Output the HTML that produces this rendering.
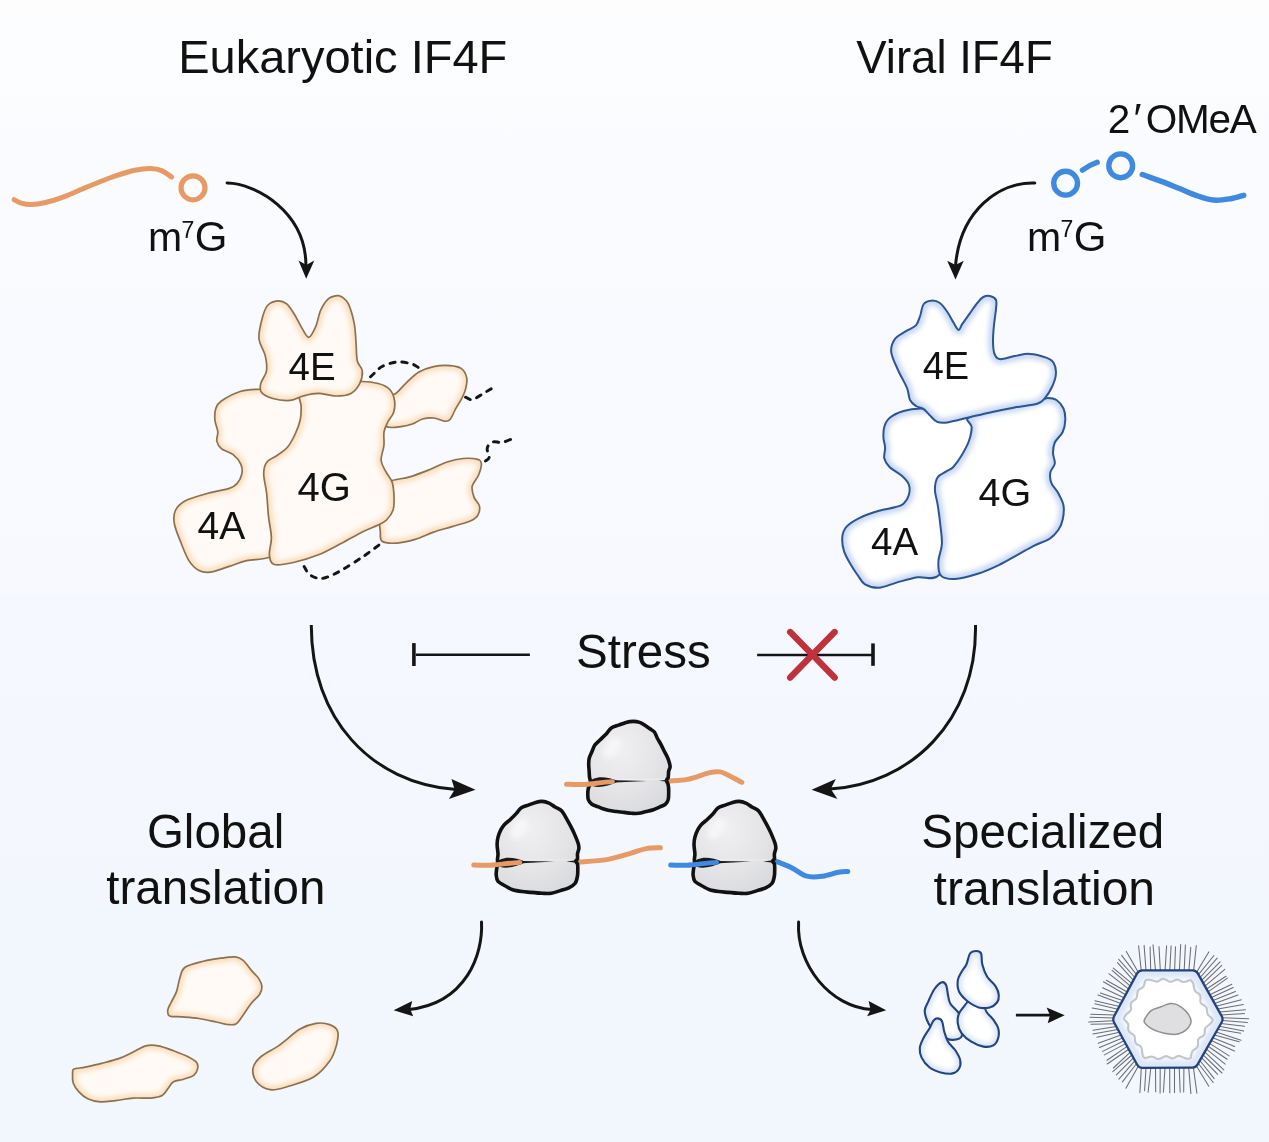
<!DOCTYPE html>
<html><head><meta charset="utf-8"><title>IF4F diagram</title>
<style>html,body{margin:0;padding:0;background:#f8fafe;}svg{display:block;} svg text{opacity:0.999;} .lbl{font-family:"Liberation Sans", sans-serif;}</style>
</head><body>
<svg width="1269" height="1142" viewBox="0 0 1269 1142">
<defs>
<linearGradient id="bg" x1="0" y1="0" x2="0" y2="1142" gradientUnits="userSpaceOnUse">
<stop offset="0" stop-color="#fdfdfe"/>
<stop offset="0.083" stop-color="#fcfdfe"/>
<stop offset="0.084" stop-color="#fbfcfe"/>
<stop offset="0.251" stop-color="#fafbfe"/>
<stop offset="0.252" stop-color="#f9fafe"/>
<stop offset="0.52" stop-color="#f7f9fe"/>
<stop offset="0.521" stop-color="#f5f8fe"/>
<stop offset="1" stop-color="#f2f6fd"/>
</linearGradient>
<radialGradient id="ribograd" cx="0.4" cy="0.3" r="0.85">
<stop offset="0" stop-color="#f0f0f2"/>
<stop offset="0.55" stop-color="#e4e4e7"/>
<stop offset="1" stop-color="#d6d7da"/>
</radialGradient>
<filter id="soft" x="-20%" y="-20%" width="140%" height="140%"><feGaussianBlur stdDeviation="2.8"/></filter>
</defs>
<rect width="1269" height="1142" fill="url(#bg)"/>

<path d="M14.2,199.7 C15.4,200.3 18.5,202.4 21.3,203.2 C24.1,204.0 27.2,204.7 31.2,204.6 C35.2,204.5 40.0,203.8 45.4,202.5 C50.8,201.2 57.6,199.1 63.8,196.8 C70.0,194.6 76.4,191.5 82.3,189.0 C88.2,186.5 93.6,184.2 99.3,182.0 C105.0,179.8 110.4,177.5 116.3,175.6 C122.2,173.7 129.1,171.5 134.8,170.3 C140.5,169.1 145.9,168.4 150.4,168.5 C154.9,168.6 158.2,169.2 161.7,170.6 C165.2,172.0 169.9,175.9 171.6,177.0" fill="none" stroke="#e69a66" stroke-width="5" stroke-linecap="round"/>
<circle cx="193" cy="187.8" r="12" fill="none" stroke="#e69a66" stroke-width="5.2"/>
<circle cx="1065.6" cy="183.2" r="11.9" fill="none" stroke="#3f8ae0" stroke-width="5.4"/>
<circle cx="1120.7" cy="165.8" r="11.9" fill="none" stroke="#3f8ae0" stroke-width="5.4"/>
<path d="M1082.5,170.1 Q1089.5,165 1097.2,162.3" fill="none" stroke="#3f8ae0" stroke-width="5.4" stroke-linecap="round"/>
<path d="M1142.3,174.5 C1145.5,175.7 1155.3,179.1 1161.4,181.4 C1167.5,183.7 1172.9,186.0 1178.7,188.3 C1184.5,190.6 1190.2,193.3 1196.0,195.3 C1201.8,197.3 1207.6,199.5 1213.4,200.1 C1219.2,200.7 1225.7,199.5 1230.7,198.7 C1235.8,197.9 1241.5,195.9 1243.7,195.3" fill="none" stroke="#3f8ae0" stroke-width="5.5" stroke-linecap="round"/>

<path d="M227.1,183.1 C255.7,183.3 306.2,211.9 305.9,266" fill="none" stroke="#151515" stroke-width="3" stroke-linecap="round"/><path d="M306.2,278.7 L298.5,260.6 L306.3,265 L314.3,260.6Z" fill="#151515"/><path d="M1034.8,183 C999.2,181.7 960,210.5 955.5,266" fill="none" stroke="#151515" stroke-width="3" stroke-linecap="round"/><path d="M955.5,279.5 L947.2,260.8 L955.5,265 L963.7,260.8Z" fill="#151515"/><path d="M311.3,625 C311.1,718.2 370.7,783.3 456,789.5" fill="none" stroke="#151515" stroke-width="3"/><path d="M475.5,789.7 L451.4,778.9 L454.7,789.4 L448.9,798.9Z" fill="#151515"/><path d="M975.5,625 C977.3,721.6 909.3,784.7 830,789" fill="none" stroke="#151515" stroke-width="3"/><path d="M811.6,789.7 L835.8,778.9 L830.8,788.9 L837.4,798.9Z" fill="#151515"/><path d="M481.5,922.1 C483.2,953.8 466.4,1003.4 409,1009.5" fill="none" stroke="#151515" stroke-width="3" stroke-linecap="round"/><path d="M393.6,1010.2 L412.2,1001.1 L410.2,1009.2 L413.2,1016.2Z" fill="#151515"/><path d="M798.6,922.1 C796.1,964.6 830.1,1007.1 872,1009.6" fill="none" stroke="#151515" stroke-width="3" stroke-linecap="round"/><path d="M886.2,1010.2 L868.6,1001.1 L870.6,1009.7 L867.1,1016.2Z" fill="#151515"/><path d="M1015.9,1015.2 L1050,1015.2" stroke="#151515" stroke-width="2.8"/><path d="M1064.7,1015.2 L1046.6,1007.4 L1050,1015.2 L1047.7,1023.3Z" fill="#151515"/>
<path d="M370.5,376.8 C371.1,376.2 372.1,375.2 374.0,373.5 C375.9,371.8 378.3,368.4 382.1,366.5 C385.9,364.6 391.9,362.4 396.8,362.0 C401.7,361.6 407.8,362.8 411.5,363.8 C415.2,364.8 417.8,367.3 419.0,368.0" fill="none" stroke="#151515" stroke-width="2.9" stroke-dasharray="5.2 6.8" stroke-linecap="round"/><path d="M465.5,397.2 C466.5,397.6 469.7,399.8 471.7,399.8 C473.7,399.8 475.6,398.1 477.5,397.1 C479.4,396.1 481.5,394.8 483.3,393.7 C485.1,392.6 486.5,391.4 488.3,390.4 C490.1,389.3 493.3,387.9 494.3,387.4" fill="none" stroke="#151515" stroke-width="2.9" stroke-dasharray="5.2 6.8" stroke-linecap="round"/><path d="M485.5,461.0 C486.1,460.5 488.2,459.3 488.8,458.2 C489.4,457.1 489.5,455.9 489.2,454.5 C488.9,453.1 487.4,451.4 487.2,450.0 C487.0,448.6 487.4,447.1 488.0,446.0 C488.6,444.9 489.9,443.9 491.0,443.2 C492.1,442.5 493.0,441.8 494.5,441.7 C496.0,441.6 498.2,442.4 500.0,442.4 C501.8,442.4 503.0,442.2 505.0,441.6 C507.0,441.0 510.7,439.4 511.8,439.0" fill="none" stroke="#151515" stroke-width="2.9" stroke-dasharray="5.2 6.8" stroke-linecap="round"/><path d="M304.1,566.4 C304.9,567.7 306.9,572.1 309.0,574.0 C311.1,575.9 314.2,577.4 317.0,578.0 C319.8,578.6 321.9,578.8 326.0,577.5 C330.1,576.2 335.5,573.7 341.6,570.2 C347.7,566.8 356.4,561.1 362.8,556.8 C369.2,552.5 377.2,546.3 380.1,544.2" fill="none" stroke="#151515" stroke-width="2.9" stroke-dasharray="5.2 6.8" stroke-linecap="round"/><clipPath id="c1"><path d="M394.9,394.1 C398.4,392.0 402.0,386.8 406.0,383.1 C410.0,379.4 414.3,374.9 418.9,372.1 C423.5,369.4 428.4,367.7 433.6,366.6 C438.8,365.5 445.5,365.3 450.1,365.6 C454.7,365.9 458.3,366.4 461.1,368.4 C463.9,370.4 465.9,374.2 466.7,377.6 C467.5,381.0 466.5,385.2 465.7,388.6 C464.9,392.0 463.8,394.4 462.1,397.8 C460.4,401.2 457.6,405.3 455.6,408.9 C453.6,412.5 451.9,417.4 450.1,419.5 C448.3,421.6 447.4,421.4 444.6,421.2 C441.9,420.9 437.3,418.4 433.6,418.0 C429.9,417.6 425.9,418.1 422.5,419.0 C419.1,419.9 416.7,422.4 413.3,423.6 C409.9,424.8 406.9,425.9 402.3,426.3 C397.7,426.8 389.8,429.0 385.7,426.3 C381.6,423.6 378.1,415.1 378.0,410.0 C377.9,404.9 382.2,398.6 385.0,396.0 C387.8,393.4 391.4,396.2 394.9,394.1Z"/></clipPath><path d="M394.9,394.1 C398.4,392.0 402.0,386.8 406.0,383.1 C410.0,379.4 414.3,374.9 418.9,372.1 C423.5,369.4 428.4,367.7 433.6,366.6 C438.8,365.5 445.5,365.3 450.1,365.6 C454.7,365.9 458.3,366.4 461.1,368.4 C463.9,370.4 465.9,374.2 466.7,377.6 C467.5,381.0 466.5,385.2 465.7,388.6 C464.9,392.0 463.8,394.4 462.1,397.8 C460.4,401.2 457.6,405.3 455.6,408.9 C453.6,412.5 451.9,417.4 450.1,419.5 C448.3,421.6 447.4,421.4 444.6,421.2 C441.9,420.9 437.3,418.4 433.6,418.0 C429.9,417.6 425.9,418.1 422.5,419.0 C419.1,419.9 416.7,422.4 413.3,423.6 C409.9,424.8 406.9,425.9 402.3,426.3 C397.7,426.8 389.8,429.0 385.7,426.3 C381.6,423.6 378.1,415.1 378.0,410.0 C377.9,404.9 382.2,398.6 385.0,396.0 C387.8,393.4 391.4,396.2 394.9,394.1Z" fill="#fffaf5"/><path d="M394.9,394.1 C398.4,392.0 402.0,386.8 406.0,383.1 C410.0,379.4 414.3,374.9 418.9,372.1 C423.5,369.4 428.4,367.7 433.6,366.6 C438.8,365.5 445.5,365.3 450.1,365.6 C454.7,365.9 458.3,366.4 461.1,368.4 C463.9,370.4 465.9,374.2 466.7,377.6 C467.5,381.0 466.5,385.2 465.7,388.6 C464.9,392.0 463.8,394.4 462.1,397.8 C460.4,401.2 457.6,405.3 455.6,408.9 C453.6,412.5 451.9,417.4 450.1,419.5 C448.3,421.6 447.4,421.4 444.6,421.2 C441.9,420.9 437.3,418.4 433.6,418.0 C429.9,417.6 425.9,418.1 422.5,419.0 C419.1,419.9 416.7,422.4 413.3,423.6 C409.9,424.8 406.9,425.9 402.3,426.3 C397.7,426.8 389.8,429.0 385.7,426.3 C381.6,423.6 378.1,415.1 378.0,410.0 C377.9,404.9 382.2,398.6 385.0,396.0 C387.8,393.4 391.4,396.2 394.9,394.1Z" fill="none" stroke="#f9dfc0" stroke-width="9" clip-path="url(#c1)" filter="url(#soft)"/><path d="M394.9,394.1 C398.4,392.0 402.0,386.8 406.0,383.1 C410.0,379.4 414.3,374.9 418.9,372.1 C423.5,369.4 428.4,367.7 433.6,366.6 C438.8,365.5 445.5,365.3 450.1,365.6 C454.7,365.9 458.3,366.4 461.1,368.4 C463.9,370.4 465.9,374.2 466.7,377.6 C467.5,381.0 466.5,385.2 465.7,388.6 C464.9,392.0 463.8,394.4 462.1,397.8 C460.4,401.2 457.6,405.3 455.6,408.9 C453.6,412.5 451.9,417.4 450.1,419.5 C448.3,421.6 447.4,421.4 444.6,421.2 C441.9,420.9 437.3,418.4 433.6,418.0 C429.9,417.6 425.9,418.1 422.5,419.0 C419.1,419.9 416.7,422.4 413.3,423.6 C409.9,424.8 406.9,425.9 402.3,426.3 C397.7,426.8 389.8,429.0 385.7,426.3 C381.6,423.6 378.1,415.1 378.0,410.0 C377.9,404.9 382.2,398.6 385.0,396.0 C387.8,393.4 391.4,396.2 394.9,394.1Z" fill="none" stroke="#8b7150" stroke-width="1.7" stroke-linejoin="round"/><clipPath id="c2"><path d="M392.2,480.6 C396.5,478.8 403.4,478.8 409.7,476.9 C416.0,475.0 423.8,471.9 429.9,469.5 C436.0,467.1 440.9,464.0 446.4,462.2 C451.9,460.4 457.8,459.0 463.0,458.5 C468.2,458.0 474.6,458.5 477.7,459.4 C480.8,460.3 481.2,461.4 481.4,464.0 C481.5,466.6 480.1,471.3 478.6,475.0 C477.1,478.7 473.0,482.4 472.2,486.1 C471.4,489.8 472.8,493.7 474.0,497.1 C475.2,500.5 478.9,503.2 479.5,506.3 C480.1,509.4 479.2,513.0 477.7,515.5 C476.2,518.0 474.6,519.1 470.3,521.0 C466.0,522.9 458.1,524.8 452.0,526.6 C445.9,528.5 439.7,530.0 433.6,532.1 C427.5,534.2 421.3,537.6 415.2,539.4 C409.1,541.2 402.3,542.8 396.8,543.1 C391.3,543.4 384.9,543.4 382.1,541.3 C379.3,539.1 380.9,536.2 380.2,530.2 C379.5,524.2 377.4,512.0 378.0,505.0 C378.6,498.0 381.6,492.1 384.0,488.0 C386.4,483.9 387.9,482.5 392.2,480.6Z"/></clipPath><path d="M392.2,480.6 C396.5,478.8 403.4,478.8 409.7,476.9 C416.0,475.0 423.8,471.9 429.9,469.5 C436.0,467.1 440.9,464.0 446.4,462.2 C451.9,460.4 457.8,459.0 463.0,458.5 C468.2,458.0 474.6,458.5 477.7,459.4 C480.8,460.3 481.2,461.4 481.4,464.0 C481.5,466.6 480.1,471.3 478.6,475.0 C477.1,478.7 473.0,482.4 472.2,486.1 C471.4,489.8 472.8,493.7 474.0,497.1 C475.2,500.5 478.9,503.2 479.5,506.3 C480.1,509.4 479.2,513.0 477.7,515.5 C476.2,518.0 474.6,519.1 470.3,521.0 C466.0,522.9 458.1,524.8 452.0,526.6 C445.9,528.5 439.7,530.0 433.6,532.1 C427.5,534.2 421.3,537.6 415.2,539.4 C409.1,541.2 402.3,542.8 396.8,543.1 C391.3,543.4 384.9,543.4 382.1,541.3 C379.3,539.1 380.9,536.2 380.2,530.2 C379.5,524.2 377.4,512.0 378.0,505.0 C378.6,498.0 381.6,492.1 384.0,488.0 C386.4,483.9 387.9,482.5 392.2,480.6Z" fill="#fffaf5"/><path d="M392.2,480.6 C396.5,478.8 403.4,478.8 409.7,476.9 C416.0,475.0 423.8,471.9 429.9,469.5 C436.0,467.1 440.9,464.0 446.4,462.2 C451.9,460.4 457.8,459.0 463.0,458.5 C468.2,458.0 474.6,458.5 477.7,459.4 C480.8,460.3 481.2,461.4 481.4,464.0 C481.5,466.6 480.1,471.3 478.6,475.0 C477.1,478.7 473.0,482.4 472.2,486.1 C471.4,489.8 472.8,493.7 474.0,497.1 C475.2,500.5 478.9,503.2 479.5,506.3 C480.1,509.4 479.2,513.0 477.7,515.5 C476.2,518.0 474.6,519.1 470.3,521.0 C466.0,522.9 458.1,524.8 452.0,526.6 C445.9,528.5 439.7,530.0 433.6,532.1 C427.5,534.2 421.3,537.6 415.2,539.4 C409.1,541.2 402.3,542.8 396.8,543.1 C391.3,543.4 384.9,543.4 382.1,541.3 C379.3,539.1 380.9,536.2 380.2,530.2 C379.5,524.2 377.4,512.0 378.0,505.0 C378.6,498.0 381.6,492.1 384.0,488.0 C386.4,483.9 387.9,482.5 392.2,480.6Z" fill="none" stroke="#f9dfc0" stroke-width="9" clip-path="url(#c2)" filter="url(#soft)"/><path d="M392.2,480.6 C396.5,478.8 403.4,478.8 409.7,476.9 C416.0,475.0 423.8,471.9 429.9,469.5 C436.0,467.1 440.9,464.0 446.4,462.2 C451.9,460.4 457.8,459.0 463.0,458.5 C468.2,458.0 474.6,458.5 477.7,459.4 C480.8,460.3 481.2,461.4 481.4,464.0 C481.5,466.6 480.1,471.3 478.6,475.0 C477.1,478.7 473.0,482.4 472.2,486.1 C471.4,489.8 472.8,493.7 474.0,497.1 C475.2,500.5 478.9,503.2 479.5,506.3 C480.1,509.4 479.2,513.0 477.7,515.5 C476.2,518.0 474.6,519.1 470.3,521.0 C466.0,522.9 458.1,524.8 452.0,526.6 C445.9,528.5 439.7,530.0 433.6,532.1 C427.5,534.2 421.3,537.6 415.2,539.4 C409.1,541.2 402.3,542.8 396.8,543.1 C391.3,543.4 384.9,543.4 382.1,541.3 C379.3,539.1 380.9,536.2 380.2,530.2 C379.5,524.2 377.4,512.0 378.0,505.0 C378.6,498.0 381.6,492.1 384.0,488.0 C386.4,483.9 387.9,482.5 392.2,480.6Z" fill="none" stroke="#8b7150" stroke-width="1.7" stroke-linejoin="round"/><clipPath id="c3"><path d="M262.0,389.0 C255.5,389.5 247.6,389.2 240.9,391.2 C234.2,393.2 225.8,397.9 221.6,400.8 C217.4,403.7 216.9,405.3 215.8,408.5 C214.7,411.7 214.6,416.1 214.9,420.0 C215.2,423.9 217.5,428.1 217.8,431.6 C218.1,435.1 216.2,438.3 216.8,441.2 C217.4,444.1 218.9,446.6 221.6,448.9 C224.3,451.1 230.0,452.1 233.2,454.7 C236.4,457.3 239.5,461.1 240.9,464.3 C242.3,467.5 242.5,470.8 241.8,474.0 C241.2,477.2 239.1,481.2 237.0,483.6 C234.9,486.0 234.1,486.8 229.3,488.4 C224.5,490.0 215.5,491.1 208.1,493.2 C200.7,495.3 190.4,498.0 185.0,500.9 C179.6,503.8 177.2,506.6 175.4,510.5 C173.6,514.4 173.4,518.5 174.4,524.0 C175.4,529.5 178.8,537.2 181.2,543.3 C183.6,549.4 186.0,556.1 188.9,560.6 C191.8,565.1 195.0,568.3 198.5,570.2 C202.0,572.1 204.9,572.8 210.0,572.2 C215.1,571.6 223.2,568.3 229.3,566.4 C235.4,564.5 240.2,562.0 246.6,560.6 C253.0,559.2 261.4,559.8 267.8,557.7 C274.2,555.6 281.0,557.6 285.0,548.0 C289.0,538.4 289.5,515.5 292.0,500.0 C294.5,484.5 296.7,468.3 300.0,455.0 C303.3,441.7 311.2,430.5 312.0,420.0 C312.8,409.5 310.3,397.3 305.0,392.0 C299.7,386.7 287.2,388.5 280.0,388.0 C272.8,387.5 268.5,388.5 262.0,389.0Z"/></clipPath><path d="M262.0,389.0 C255.5,389.5 247.6,389.2 240.9,391.2 C234.2,393.2 225.8,397.9 221.6,400.8 C217.4,403.7 216.9,405.3 215.8,408.5 C214.7,411.7 214.6,416.1 214.9,420.0 C215.2,423.9 217.5,428.1 217.8,431.6 C218.1,435.1 216.2,438.3 216.8,441.2 C217.4,444.1 218.9,446.6 221.6,448.9 C224.3,451.1 230.0,452.1 233.2,454.7 C236.4,457.3 239.5,461.1 240.9,464.3 C242.3,467.5 242.5,470.8 241.8,474.0 C241.2,477.2 239.1,481.2 237.0,483.6 C234.9,486.0 234.1,486.8 229.3,488.4 C224.5,490.0 215.5,491.1 208.1,493.2 C200.7,495.3 190.4,498.0 185.0,500.9 C179.6,503.8 177.2,506.6 175.4,510.5 C173.6,514.4 173.4,518.5 174.4,524.0 C175.4,529.5 178.8,537.2 181.2,543.3 C183.6,549.4 186.0,556.1 188.9,560.6 C191.8,565.1 195.0,568.3 198.5,570.2 C202.0,572.1 204.9,572.8 210.0,572.2 C215.1,571.6 223.2,568.3 229.3,566.4 C235.4,564.5 240.2,562.0 246.6,560.6 C253.0,559.2 261.4,559.8 267.8,557.7 C274.2,555.6 281.0,557.6 285.0,548.0 C289.0,538.4 289.5,515.5 292.0,500.0 C294.5,484.5 296.7,468.3 300.0,455.0 C303.3,441.7 311.2,430.5 312.0,420.0 C312.8,409.5 310.3,397.3 305.0,392.0 C299.7,386.7 287.2,388.5 280.0,388.0 C272.8,387.5 268.5,388.5 262.0,389.0Z" fill="#fffaf5"/><path d="M262.0,389.0 C255.5,389.5 247.6,389.2 240.9,391.2 C234.2,393.2 225.8,397.9 221.6,400.8 C217.4,403.7 216.9,405.3 215.8,408.5 C214.7,411.7 214.6,416.1 214.9,420.0 C215.2,423.9 217.5,428.1 217.8,431.6 C218.1,435.1 216.2,438.3 216.8,441.2 C217.4,444.1 218.9,446.6 221.6,448.9 C224.3,451.1 230.0,452.1 233.2,454.7 C236.4,457.3 239.5,461.1 240.9,464.3 C242.3,467.5 242.5,470.8 241.8,474.0 C241.2,477.2 239.1,481.2 237.0,483.6 C234.9,486.0 234.1,486.8 229.3,488.4 C224.5,490.0 215.5,491.1 208.1,493.2 C200.7,495.3 190.4,498.0 185.0,500.9 C179.6,503.8 177.2,506.6 175.4,510.5 C173.6,514.4 173.4,518.5 174.4,524.0 C175.4,529.5 178.8,537.2 181.2,543.3 C183.6,549.4 186.0,556.1 188.9,560.6 C191.8,565.1 195.0,568.3 198.5,570.2 C202.0,572.1 204.9,572.8 210.0,572.2 C215.1,571.6 223.2,568.3 229.3,566.4 C235.4,564.5 240.2,562.0 246.6,560.6 C253.0,559.2 261.4,559.8 267.8,557.7 C274.2,555.6 281.0,557.6 285.0,548.0 C289.0,538.4 289.5,515.5 292.0,500.0 C294.5,484.5 296.7,468.3 300.0,455.0 C303.3,441.7 311.2,430.5 312.0,420.0 C312.8,409.5 310.3,397.3 305.0,392.0 C299.7,386.7 287.2,388.5 280.0,388.0 C272.8,387.5 268.5,388.5 262.0,389.0Z" fill="none" stroke="#f9dfc0" stroke-width="9" clip-path="url(#c3)" filter="url(#soft)"/><path d="M262.0,389.0 C255.5,389.5 247.6,389.2 240.9,391.2 C234.2,393.2 225.8,397.9 221.6,400.8 C217.4,403.7 216.9,405.3 215.8,408.5 C214.7,411.7 214.6,416.1 214.9,420.0 C215.2,423.9 217.5,428.1 217.8,431.6 C218.1,435.1 216.2,438.3 216.8,441.2 C217.4,444.1 218.9,446.6 221.6,448.9 C224.3,451.1 230.0,452.1 233.2,454.7 C236.4,457.3 239.5,461.1 240.9,464.3 C242.3,467.5 242.5,470.8 241.8,474.0 C241.2,477.2 239.1,481.2 237.0,483.6 C234.9,486.0 234.1,486.8 229.3,488.4 C224.5,490.0 215.5,491.1 208.1,493.2 C200.7,495.3 190.4,498.0 185.0,500.9 C179.6,503.8 177.2,506.6 175.4,510.5 C173.6,514.4 173.4,518.5 174.4,524.0 C175.4,529.5 178.8,537.2 181.2,543.3 C183.6,549.4 186.0,556.1 188.9,560.6 C191.8,565.1 195.0,568.3 198.5,570.2 C202.0,572.1 204.9,572.8 210.0,572.2 C215.1,571.6 223.2,568.3 229.3,566.4 C235.4,564.5 240.2,562.0 246.6,560.6 C253.0,559.2 261.4,559.8 267.8,557.7 C274.2,555.6 281.0,557.6 285.0,548.0 C289.0,538.4 289.5,515.5 292.0,500.0 C294.5,484.5 296.7,468.3 300.0,455.0 C303.3,441.7 311.2,430.5 312.0,420.0 C312.8,409.5 310.3,397.3 305.0,392.0 C299.7,386.7 287.2,388.5 280.0,388.0 C272.8,387.5 268.5,388.5 262.0,389.0Z" fill="none" stroke="#8b7150" stroke-width="1.7" stroke-linejoin="round"/><clipPath id="c4"><path d="M301.0,392.0 C305.8,388.6 320.3,387.7 330.0,386.0 C339.7,384.3 351.0,382.0 359.0,381.6 C367.0,381.2 373.1,382.2 378.2,383.5 C383.3,384.8 387.1,386.6 389.8,389.5 C392.5,392.4 394.0,397.0 394.6,400.8 C395.2,404.6 394.7,408.9 393.6,412.4 C392.5,415.9 389.4,418.7 387.8,422.0 C386.2,425.3 384.6,428.1 384.0,432.0 C383.4,435.9 384.4,440.9 383.9,445.6 C383.4,450.3 380.8,456.0 381.1,460.3 C381.4,464.6 383.9,467.7 385.7,471.4 C387.5,475.1 390.8,478.1 392.2,482.4 C393.6,486.7 393.9,492.5 394.0,497.1 C394.1,501.7 394.4,506.2 393.1,510.0 C391.9,513.8 389.0,517.5 386.5,520.0 C384.0,522.5 382.1,523.0 378.2,525.0 C374.2,527.0 368.9,528.7 362.8,531.7 C356.7,534.8 349.0,539.4 341.6,543.3 C334.2,547.1 326.5,551.6 318.5,554.8 C310.5,558.0 300.9,560.9 293.5,562.5 C286.1,564.1 278.3,565.8 274.3,564.5 C270.3,563.2 269.9,559.3 269.4,554.8 C268.9,550.3 271.5,543.9 271.4,537.5 C271.2,531.1 269.3,523.7 268.5,516.3 C267.7,508.9 267.4,500.2 266.6,493.2 C265.8,486.1 263.7,479.1 263.7,474.0 C263.7,468.9 264.2,465.6 266.6,462.4 C269.0,459.2 274.6,457.3 278.1,454.7 C281.6,452.1 284.8,450.5 287.7,447.0 C290.6,443.5 293.3,438.0 295.4,433.5 C297.5,429.0 299.2,424.5 300.2,420.0 C301.2,415.5 301.1,411.3 301.2,406.6 C301.3,401.9 296.2,395.4 301.0,392.0Z"/></clipPath><path d="M301.0,392.0 C305.8,388.6 320.3,387.7 330.0,386.0 C339.7,384.3 351.0,382.0 359.0,381.6 C367.0,381.2 373.1,382.2 378.2,383.5 C383.3,384.8 387.1,386.6 389.8,389.5 C392.5,392.4 394.0,397.0 394.6,400.8 C395.2,404.6 394.7,408.9 393.6,412.4 C392.5,415.9 389.4,418.7 387.8,422.0 C386.2,425.3 384.6,428.1 384.0,432.0 C383.4,435.9 384.4,440.9 383.9,445.6 C383.4,450.3 380.8,456.0 381.1,460.3 C381.4,464.6 383.9,467.7 385.7,471.4 C387.5,475.1 390.8,478.1 392.2,482.4 C393.6,486.7 393.9,492.5 394.0,497.1 C394.1,501.7 394.4,506.2 393.1,510.0 C391.9,513.8 389.0,517.5 386.5,520.0 C384.0,522.5 382.1,523.0 378.2,525.0 C374.2,527.0 368.9,528.7 362.8,531.7 C356.7,534.8 349.0,539.4 341.6,543.3 C334.2,547.1 326.5,551.6 318.5,554.8 C310.5,558.0 300.9,560.9 293.5,562.5 C286.1,564.1 278.3,565.8 274.3,564.5 C270.3,563.2 269.9,559.3 269.4,554.8 C268.9,550.3 271.5,543.9 271.4,537.5 C271.2,531.1 269.3,523.7 268.5,516.3 C267.7,508.9 267.4,500.2 266.6,493.2 C265.8,486.1 263.7,479.1 263.7,474.0 C263.7,468.9 264.2,465.6 266.6,462.4 C269.0,459.2 274.6,457.3 278.1,454.7 C281.6,452.1 284.8,450.5 287.7,447.0 C290.6,443.5 293.3,438.0 295.4,433.5 C297.5,429.0 299.2,424.5 300.2,420.0 C301.2,415.5 301.1,411.3 301.2,406.6 C301.3,401.9 296.2,395.4 301.0,392.0Z" fill="#fffaf5"/><path d="M301.0,392.0 C305.8,388.6 320.3,387.7 330.0,386.0 C339.7,384.3 351.0,382.0 359.0,381.6 C367.0,381.2 373.1,382.2 378.2,383.5 C383.3,384.8 387.1,386.6 389.8,389.5 C392.5,392.4 394.0,397.0 394.6,400.8 C395.2,404.6 394.7,408.9 393.6,412.4 C392.5,415.9 389.4,418.7 387.8,422.0 C386.2,425.3 384.6,428.1 384.0,432.0 C383.4,435.9 384.4,440.9 383.9,445.6 C383.4,450.3 380.8,456.0 381.1,460.3 C381.4,464.6 383.9,467.7 385.7,471.4 C387.5,475.1 390.8,478.1 392.2,482.4 C393.6,486.7 393.9,492.5 394.0,497.1 C394.1,501.7 394.4,506.2 393.1,510.0 C391.9,513.8 389.0,517.5 386.5,520.0 C384.0,522.5 382.1,523.0 378.2,525.0 C374.2,527.0 368.9,528.7 362.8,531.7 C356.7,534.8 349.0,539.4 341.6,543.3 C334.2,547.1 326.5,551.6 318.5,554.8 C310.5,558.0 300.9,560.9 293.5,562.5 C286.1,564.1 278.3,565.8 274.3,564.5 C270.3,563.2 269.9,559.3 269.4,554.8 C268.9,550.3 271.5,543.9 271.4,537.5 C271.2,531.1 269.3,523.7 268.5,516.3 C267.7,508.9 267.4,500.2 266.6,493.2 C265.8,486.1 263.7,479.1 263.7,474.0 C263.7,468.9 264.2,465.6 266.6,462.4 C269.0,459.2 274.6,457.3 278.1,454.7 C281.6,452.1 284.8,450.5 287.7,447.0 C290.6,443.5 293.3,438.0 295.4,433.5 C297.5,429.0 299.2,424.5 300.2,420.0 C301.2,415.5 301.1,411.3 301.2,406.6 C301.3,401.9 296.2,395.4 301.0,392.0Z" fill="none" stroke="#f9dfc0" stroke-width="9" clip-path="url(#c4)" filter="url(#soft)"/><path d="M301.0,392.0 C305.8,388.6 320.3,387.7 330.0,386.0 C339.7,384.3 351.0,382.0 359.0,381.6 C367.0,381.2 373.1,382.2 378.2,383.5 C383.3,384.8 387.1,386.6 389.8,389.5 C392.5,392.4 394.0,397.0 394.6,400.8 C395.2,404.6 394.7,408.9 393.6,412.4 C392.5,415.9 389.4,418.7 387.8,422.0 C386.2,425.3 384.6,428.1 384.0,432.0 C383.4,435.9 384.4,440.9 383.9,445.6 C383.4,450.3 380.8,456.0 381.1,460.3 C381.4,464.6 383.9,467.7 385.7,471.4 C387.5,475.1 390.8,478.1 392.2,482.4 C393.6,486.7 393.9,492.5 394.0,497.1 C394.1,501.7 394.4,506.2 393.1,510.0 C391.9,513.8 389.0,517.5 386.5,520.0 C384.0,522.5 382.1,523.0 378.2,525.0 C374.2,527.0 368.9,528.7 362.8,531.7 C356.7,534.8 349.0,539.4 341.6,543.3 C334.2,547.1 326.5,551.6 318.5,554.8 C310.5,558.0 300.9,560.9 293.5,562.5 C286.1,564.1 278.3,565.8 274.3,564.5 C270.3,563.2 269.9,559.3 269.4,554.8 C268.9,550.3 271.5,543.9 271.4,537.5 C271.2,531.1 269.3,523.7 268.5,516.3 C267.7,508.9 267.4,500.2 266.6,493.2 C265.8,486.1 263.7,479.1 263.7,474.0 C263.7,468.9 264.2,465.6 266.6,462.4 C269.0,459.2 274.6,457.3 278.1,454.7 C281.6,452.1 284.8,450.5 287.7,447.0 C290.6,443.5 293.3,438.0 295.4,433.5 C297.5,429.0 299.2,424.5 300.2,420.0 C301.2,415.5 301.1,411.3 301.2,406.6 C301.3,401.9 296.2,395.4 301.0,392.0Z" fill="none" stroke="#8b7150" stroke-width="1.7" stroke-linejoin="round"/><clipPath id="c5"><path d="M277.8,300.8 C280.9,300.6 284.0,301.7 286.7,303.9 C289.4,306.1 291.7,310.0 294.2,314.0 C296.7,318.0 299.4,324.0 301.8,327.9 C304.2,331.8 306.4,337.5 308.7,337.3 C311.0,337.1 313.7,331.1 315.7,326.6 C317.7,322.1 318.6,314.8 320.7,310.2 C322.8,305.6 325.6,301.3 328.3,298.9 C331.0,296.5 334.8,296.0 337.1,295.7 C339.4,295.4 340.1,295.6 342.0,297.0 C343.9,298.4 346.4,299.6 348.4,303.9 C350.4,308.2 352.8,316.5 354.1,322.8 C355.4,329.1 355.5,335.4 356.0,341.7 C356.5,348.0 356.2,355.8 357.3,360.7 C358.4,365.6 361.9,367.0 362.3,370.8 C362.7,374.6 361.7,379.6 359.8,383.4 C357.9,387.2 355.0,391.3 351.0,393.4 C347.0,395.5 341.3,396.0 335.8,396.0 C330.3,396.0 323.7,393.4 318.2,393.4 C312.7,393.4 307.6,394.8 303.0,396.0 C298.4,397.2 295.4,400.0 290.4,400.4 C285.4,400.8 277.6,399.9 272.8,398.5 C268.0,397.1 263.4,394.7 261.4,392.2 C259.4,389.7 259.9,387.0 260.8,383.4 C261.7,379.8 265.8,375.4 266.5,370.8 C267.2,366.2 266.5,361.1 265.2,355.6 C263.9,350.1 259.3,344.5 258.9,338.0 C258.5,331.5 261.2,322.0 262.7,316.5 C264.2,311.0 265.5,307.6 268.0,305.0 C270.5,302.4 274.7,301.0 277.8,300.8Z"/></clipPath><path d="M277.8,300.8 C280.9,300.6 284.0,301.7 286.7,303.9 C289.4,306.1 291.7,310.0 294.2,314.0 C296.7,318.0 299.4,324.0 301.8,327.9 C304.2,331.8 306.4,337.5 308.7,337.3 C311.0,337.1 313.7,331.1 315.7,326.6 C317.7,322.1 318.6,314.8 320.7,310.2 C322.8,305.6 325.6,301.3 328.3,298.9 C331.0,296.5 334.8,296.0 337.1,295.7 C339.4,295.4 340.1,295.6 342.0,297.0 C343.9,298.4 346.4,299.6 348.4,303.9 C350.4,308.2 352.8,316.5 354.1,322.8 C355.4,329.1 355.5,335.4 356.0,341.7 C356.5,348.0 356.2,355.8 357.3,360.7 C358.4,365.6 361.9,367.0 362.3,370.8 C362.7,374.6 361.7,379.6 359.8,383.4 C357.9,387.2 355.0,391.3 351.0,393.4 C347.0,395.5 341.3,396.0 335.8,396.0 C330.3,396.0 323.7,393.4 318.2,393.4 C312.7,393.4 307.6,394.8 303.0,396.0 C298.4,397.2 295.4,400.0 290.4,400.4 C285.4,400.8 277.6,399.9 272.8,398.5 C268.0,397.1 263.4,394.7 261.4,392.2 C259.4,389.7 259.9,387.0 260.8,383.4 C261.7,379.8 265.8,375.4 266.5,370.8 C267.2,366.2 266.5,361.1 265.2,355.6 C263.9,350.1 259.3,344.5 258.9,338.0 C258.5,331.5 261.2,322.0 262.7,316.5 C264.2,311.0 265.5,307.6 268.0,305.0 C270.5,302.4 274.7,301.0 277.8,300.8Z" fill="#fffaf5"/><path d="M277.8,300.8 C280.9,300.6 284.0,301.7 286.7,303.9 C289.4,306.1 291.7,310.0 294.2,314.0 C296.7,318.0 299.4,324.0 301.8,327.9 C304.2,331.8 306.4,337.5 308.7,337.3 C311.0,337.1 313.7,331.1 315.7,326.6 C317.7,322.1 318.6,314.8 320.7,310.2 C322.8,305.6 325.6,301.3 328.3,298.9 C331.0,296.5 334.8,296.0 337.1,295.7 C339.4,295.4 340.1,295.6 342.0,297.0 C343.9,298.4 346.4,299.6 348.4,303.9 C350.4,308.2 352.8,316.5 354.1,322.8 C355.4,329.1 355.5,335.4 356.0,341.7 C356.5,348.0 356.2,355.8 357.3,360.7 C358.4,365.6 361.9,367.0 362.3,370.8 C362.7,374.6 361.7,379.6 359.8,383.4 C357.9,387.2 355.0,391.3 351.0,393.4 C347.0,395.5 341.3,396.0 335.8,396.0 C330.3,396.0 323.7,393.4 318.2,393.4 C312.7,393.4 307.6,394.8 303.0,396.0 C298.4,397.2 295.4,400.0 290.4,400.4 C285.4,400.8 277.6,399.9 272.8,398.5 C268.0,397.1 263.4,394.7 261.4,392.2 C259.4,389.7 259.9,387.0 260.8,383.4 C261.7,379.8 265.8,375.4 266.5,370.8 C267.2,366.2 266.5,361.1 265.2,355.6 C263.9,350.1 259.3,344.5 258.9,338.0 C258.5,331.5 261.2,322.0 262.7,316.5 C264.2,311.0 265.5,307.6 268.0,305.0 C270.5,302.4 274.7,301.0 277.8,300.8Z" fill="none" stroke="#f9dfc0" stroke-width="9" clip-path="url(#c5)" filter="url(#soft)"/><path d="M277.8,300.8 C280.9,300.6 284.0,301.7 286.7,303.9 C289.4,306.1 291.7,310.0 294.2,314.0 C296.7,318.0 299.4,324.0 301.8,327.9 C304.2,331.8 306.4,337.5 308.7,337.3 C311.0,337.1 313.7,331.1 315.7,326.6 C317.7,322.1 318.6,314.8 320.7,310.2 C322.8,305.6 325.6,301.3 328.3,298.9 C331.0,296.5 334.8,296.0 337.1,295.7 C339.4,295.4 340.1,295.6 342.0,297.0 C343.9,298.4 346.4,299.6 348.4,303.9 C350.4,308.2 352.8,316.5 354.1,322.8 C355.4,329.1 355.5,335.4 356.0,341.7 C356.5,348.0 356.2,355.8 357.3,360.7 C358.4,365.6 361.9,367.0 362.3,370.8 C362.7,374.6 361.7,379.6 359.8,383.4 C357.9,387.2 355.0,391.3 351.0,393.4 C347.0,395.5 341.3,396.0 335.8,396.0 C330.3,396.0 323.7,393.4 318.2,393.4 C312.7,393.4 307.6,394.8 303.0,396.0 C298.4,397.2 295.4,400.0 290.4,400.4 C285.4,400.8 277.6,399.9 272.8,398.5 C268.0,397.1 263.4,394.7 261.4,392.2 C259.4,389.7 259.9,387.0 260.8,383.4 C261.7,379.8 265.8,375.4 266.5,370.8 C267.2,366.2 266.5,361.1 265.2,355.6 C263.9,350.1 259.3,344.5 258.9,338.0 C258.5,331.5 261.2,322.0 262.7,316.5 C264.2,311.0 265.5,307.6 268.0,305.0 C270.5,302.4 274.7,301.0 277.8,300.8Z" fill="none" stroke="#8b7150" stroke-width="1.7" stroke-linejoin="round"/>
<clipPath id="c6"><path d="M921.0,408.4 C914.9,408.6 908.8,409.4 903.5,411.0 C898.2,412.6 892.7,415.4 889.5,418.0 C886.3,420.6 885.3,423.6 884.3,426.8 C883.3,430.0 883.3,433.8 883.4,437.3 C883.5,440.8 885.0,444.3 885.1,447.8 C885.2,451.3 883.6,455.1 884.3,458.3 C885.0,461.5 886.6,464.1 889.5,467.0 C892.4,469.9 898.6,472.9 901.8,475.8 C905.0,478.7 907.6,481.3 908.8,484.5 C910.0,487.7 909.7,491.8 908.8,495.0 C907.9,498.2 905.8,501.8 903.5,503.8 C901.2,505.9 898.9,506.1 894.8,507.3 C890.7,508.5 884.8,509.1 879.0,510.8 C873.2,512.5 865.2,515.2 859.8,517.8 C854.4,520.4 849.5,523.4 846.6,526.6 C843.7,529.8 842.7,532.9 842.3,537.0 C841.9,541.1 842.5,546.4 844.0,551.1 C845.5,555.8 848.7,561.0 851.0,565.1 C853.3,569.2 855.7,572.4 858.0,575.6 C860.3,578.8 861.5,582.3 865.0,584.3 C868.5,586.3 873.8,588.1 879.0,587.8 C884.2,587.5 890.1,584.4 896.5,582.6 C902.9,580.9 910.5,578.5 917.5,577.3 C924.5,576.1 932.8,581.0 938.5,575.6 C944.2,570.2 948.1,560.9 952.0,545.0 C955.9,529.1 957.0,499.2 962.0,480.0 C967.0,460.8 979.7,441.3 982.0,430.0 C984.3,418.7 983.0,415.3 976.0,412.0 C969.0,408.7 949.2,410.6 940.0,410.0 C930.8,409.4 927.1,408.2 921.0,408.4Z"/></clipPath><path d="M921.0,408.4 C914.9,408.6 908.8,409.4 903.5,411.0 C898.2,412.6 892.7,415.4 889.5,418.0 C886.3,420.6 885.3,423.6 884.3,426.8 C883.3,430.0 883.3,433.8 883.4,437.3 C883.5,440.8 885.0,444.3 885.1,447.8 C885.2,451.3 883.6,455.1 884.3,458.3 C885.0,461.5 886.6,464.1 889.5,467.0 C892.4,469.9 898.6,472.9 901.8,475.8 C905.0,478.7 907.6,481.3 908.8,484.5 C910.0,487.7 909.7,491.8 908.8,495.0 C907.9,498.2 905.8,501.8 903.5,503.8 C901.2,505.9 898.9,506.1 894.8,507.3 C890.7,508.5 884.8,509.1 879.0,510.8 C873.2,512.5 865.2,515.2 859.8,517.8 C854.4,520.4 849.5,523.4 846.6,526.6 C843.7,529.8 842.7,532.9 842.3,537.0 C841.9,541.1 842.5,546.4 844.0,551.1 C845.5,555.8 848.7,561.0 851.0,565.1 C853.3,569.2 855.7,572.4 858.0,575.6 C860.3,578.8 861.5,582.3 865.0,584.3 C868.5,586.3 873.8,588.1 879.0,587.8 C884.2,587.5 890.1,584.4 896.5,582.6 C902.9,580.9 910.5,578.5 917.5,577.3 C924.5,576.1 932.8,581.0 938.5,575.6 C944.2,570.2 948.1,560.9 952.0,545.0 C955.9,529.1 957.0,499.2 962.0,480.0 C967.0,460.8 979.7,441.3 982.0,430.0 C984.3,418.7 983.0,415.3 976.0,412.0 C969.0,408.7 949.2,410.6 940.0,410.0 C930.8,409.4 927.1,408.2 921.0,408.4Z" fill="#ffffff"/><path d="M921.0,408.4 C914.9,408.6 908.8,409.4 903.5,411.0 C898.2,412.6 892.7,415.4 889.5,418.0 C886.3,420.6 885.3,423.6 884.3,426.8 C883.3,430.0 883.3,433.8 883.4,437.3 C883.5,440.8 885.0,444.3 885.1,447.8 C885.2,451.3 883.6,455.1 884.3,458.3 C885.0,461.5 886.6,464.1 889.5,467.0 C892.4,469.9 898.6,472.9 901.8,475.8 C905.0,478.7 907.6,481.3 908.8,484.5 C910.0,487.7 909.7,491.8 908.8,495.0 C907.9,498.2 905.8,501.8 903.5,503.8 C901.2,505.9 898.9,506.1 894.8,507.3 C890.7,508.5 884.8,509.1 879.0,510.8 C873.2,512.5 865.2,515.2 859.8,517.8 C854.4,520.4 849.5,523.4 846.6,526.6 C843.7,529.8 842.7,532.9 842.3,537.0 C841.9,541.1 842.5,546.4 844.0,551.1 C845.5,555.8 848.7,561.0 851.0,565.1 C853.3,569.2 855.7,572.4 858.0,575.6 C860.3,578.8 861.5,582.3 865.0,584.3 C868.5,586.3 873.8,588.1 879.0,587.8 C884.2,587.5 890.1,584.4 896.5,582.6 C902.9,580.9 910.5,578.5 917.5,577.3 C924.5,576.1 932.8,581.0 938.5,575.6 C944.2,570.2 948.1,560.9 952.0,545.0 C955.9,529.1 957.0,499.2 962.0,480.0 C967.0,460.8 979.7,441.3 982.0,430.0 C984.3,418.7 983.0,415.3 976.0,412.0 C969.0,408.7 949.2,410.6 940.0,410.0 C930.8,409.4 927.1,408.2 921.0,408.4Z" fill="none" stroke="#c9d8f3" stroke-width="10" clip-path="url(#c6)" filter="url(#soft)"/><path d="M921.0,408.4 C914.9,408.6 908.8,409.4 903.5,411.0 C898.2,412.6 892.7,415.4 889.5,418.0 C886.3,420.6 885.3,423.6 884.3,426.8 C883.3,430.0 883.3,433.8 883.4,437.3 C883.5,440.8 885.0,444.3 885.1,447.8 C885.2,451.3 883.6,455.1 884.3,458.3 C885.0,461.5 886.6,464.1 889.5,467.0 C892.4,469.9 898.6,472.9 901.8,475.8 C905.0,478.7 907.6,481.3 908.8,484.5 C910.0,487.7 909.7,491.8 908.8,495.0 C907.9,498.2 905.8,501.8 903.5,503.8 C901.2,505.9 898.9,506.1 894.8,507.3 C890.7,508.5 884.8,509.1 879.0,510.8 C873.2,512.5 865.2,515.2 859.8,517.8 C854.4,520.4 849.5,523.4 846.6,526.6 C843.7,529.8 842.7,532.9 842.3,537.0 C841.9,541.1 842.5,546.4 844.0,551.1 C845.5,555.8 848.7,561.0 851.0,565.1 C853.3,569.2 855.7,572.4 858.0,575.6 C860.3,578.8 861.5,582.3 865.0,584.3 C868.5,586.3 873.8,588.1 879.0,587.8 C884.2,587.5 890.1,584.4 896.5,582.6 C902.9,580.9 910.5,578.5 917.5,577.3 C924.5,576.1 932.8,581.0 938.5,575.6 C944.2,570.2 948.1,560.9 952.0,545.0 C955.9,529.1 957.0,499.2 962.0,480.0 C967.0,460.8 979.7,441.3 982.0,430.0 C984.3,418.7 983.0,415.3 976.0,412.0 C969.0,408.7 949.2,410.6 940.0,410.0 C930.8,409.4 927.1,408.2 921.0,408.4Z" fill="none" stroke="#2d5592" stroke-width="2.0" stroke-linejoin="round"/><clipPath id="c7"><path d="M968.0,418.0 C971.1,415.4 982.0,412.9 990.0,411.0 C998.0,409.1 1007.8,408.4 1016.3,406.6 C1024.8,404.8 1035.5,401.4 1040.8,400.0 C1046.0,398.6 1045.2,397.9 1047.8,397.9 C1050.4,397.9 1053.9,398.2 1056.5,400.0 C1059.1,401.8 1062.0,405.2 1063.5,408.5 C1065.0,411.8 1065.4,415.9 1065.3,419.8 C1065.2,423.7 1064.5,428.2 1062.7,432.0 C1061.0,435.8 1056.4,439.0 1054.8,442.5 C1053.2,446.0 1053.0,449.5 1053.0,453.0 C1053.0,456.5 1055.2,460.3 1054.8,463.5 C1054.4,466.7 1051.0,469.1 1050.4,472.3 C1049.8,475.5 1050.0,479.3 1051.3,482.8 C1052.6,486.3 1056.3,489.5 1058.3,493.3 C1060.3,497.1 1062.8,501.1 1063.5,505.5 C1064.2,509.9 1063.6,515.4 1062.7,519.5 C1061.8,523.6 1060.5,526.8 1058.3,530.0 C1056.1,533.2 1053.6,536.2 1049.5,538.8 C1045.4,541.4 1039.0,543.2 1033.8,545.8 C1028.5,548.4 1023.8,551.4 1018.0,554.6 C1012.2,557.8 1005.5,561.9 998.8,565.1 C992.1,568.3 985.1,571.5 977.8,573.8 C970.5,576.1 961.1,578.7 955.0,579.0 C948.9,579.3 943.8,578.5 941.0,575.6 C938.2,572.7 938.2,566.9 938.4,561.6 C938.5,556.3 941.6,550.4 941.9,544.0 C942.2,537.6 940.8,529.7 940.1,523.0 C939.4,516.3 938.4,509.3 937.5,503.8 C936.6,498.3 934.9,494.2 934.9,489.8 C934.9,485.4 935.6,480.6 937.5,477.5 C939.4,474.4 943.7,473.1 946.3,471.4 C948.9,469.6 950.7,469.8 953.3,467.0 C955.9,464.2 959.4,459.2 962.0,454.8 C964.6,450.4 967.4,445.5 969.0,440.8 C970.6,436.1 971.8,430.6 971.6,426.8 C971.4,423.0 964.9,420.6 968.0,418.0Z"/></clipPath><path d="M968.0,418.0 C971.1,415.4 982.0,412.9 990.0,411.0 C998.0,409.1 1007.8,408.4 1016.3,406.6 C1024.8,404.8 1035.5,401.4 1040.8,400.0 C1046.0,398.6 1045.2,397.9 1047.8,397.9 C1050.4,397.9 1053.9,398.2 1056.5,400.0 C1059.1,401.8 1062.0,405.2 1063.5,408.5 C1065.0,411.8 1065.4,415.9 1065.3,419.8 C1065.2,423.7 1064.5,428.2 1062.7,432.0 C1061.0,435.8 1056.4,439.0 1054.8,442.5 C1053.2,446.0 1053.0,449.5 1053.0,453.0 C1053.0,456.5 1055.2,460.3 1054.8,463.5 C1054.4,466.7 1051.0,469.1 1050.4,472.3 C1049.8,475.5 1050.0,479.3 1051.3,482.8 C1052.6,486.3 1056.3,489.5 1058.3,493.3 C1060.3,497.1 1062.8,501.1 1063.5,505.5 C1064.2,509.9 1063.6,515.4 1062.7,519.5 C1061.8,523.6 1060.5,526.8 1058.3,530.0 C1056.1,533.2 1053.6,536.2 1049.5,538.8 C1045.4,541.4 1039.0,543.2 1033.8,545.8 C1028.5,548.4 1023.8,551.4 1018.0,554.6 C1012.2,557.8 1005.5,561.9 998.8,565.1 C992.1,568.3 985.1,571.5 977.8,573.8 C970.5,576.1 961.1,578.7 955.0,579.0 C948.9,579.3 943.8,578.5 941.0,575.6 C938.2,572.7 938.2,566.9 938.4,561.6 C938.5,556.3 941.6,550.4 941.9,544.0 C942.2,537.6 940.8,529.7 940.1,523.0 C939.4,516.3 938.4,509.3 937.5,503.8 C936.6,498.3 934.9,494.2 934.9,489.8 C934.9,485.4 935.6,480.6 937.5,477.5 C939.4,474.4 943.7,473.1 946.3,471.4 C948.9,469.6 950.7,469.8 953.3,467.0 C955.9,464.2 959.4,459.2 962.0,454.8 C964.6,450.4 967.4,445.5 969.0,440.8 C970.6,436.1 971.8,430.6 971.6,426.8 C971.4,423.0 964.9,420.6 968.0,418.0Z" fill="#ffffff"/><path d="M968.0,418.0 C971.1,415.4 982.0,412.9 990.0,411.0 C998.0,409.1 1007.8,408.4 1016.3,406.6 C1024.8,404.8 1035.5,401.4 1040.8,400.0 C1046.0,398.6 1045.2,397.9 1047.8,397.9 C1050.4,397.9 1053.9,398.2 1056.5,400.0 C1059.1,401.8 1062.0,405.2 1063.5,408.5 C1065.0,411.8 1065.4,415.9 1065.3,419.8 C1065.2,423.7 1064.5,428.2 1062.7,432.0 C1061.0,435.8 1056.4,439.0 1054.8,442.5 C1053.2,446.0 1053.0,449.5 1053.0,453.0 C1053.0,456.5 1055.2,460.3 1054.8,463.5 C1054.4,466.7 1051.0,469.1 1050.4,472.3 C1049.8,475.5 1050.0,479.3 1051.3,482.8 C1052.6,486.3 1056.3,489.5 1058.3,493.3 C1060.3,497.1 1062.8,501.1 1063.5,505.5 C1064.2,509.9 1063.6,515.4 1062.7,519.5 C1061.8,523.6 1060.5,526.8 1058.3,530.0 C1056.1,533.2 1053.6,536.2 1049.5,538.8 C1045.4,541.4 1039.0,543.2 1033.8,545.8 C1028.5,548.4 1023.8,551.4 1018.0,554.6 C1012.2,557.8 1005.5,561.9 998.8,565.1 C992.1,568.3 985.1,571.5 977.8,573.8 C970.5,576.1 961.1,578.7 955.0,579.0 C948.9,579.3 943.8,578.5 941.0,575.6 C938.2,572.7 938.2,566.9 938.4,561.6 C938.5,556.3 941.6,550.4 941.9,544.0 C942.2,537.6 940.8,529.7 940.1,523.0 C939.4,516.3 938.4,509.3 937.5,503.8 C936.6,498.3 934.9,494.2 934.9,489.8 C934.9,485.4 935.6,480.6 937.5,477.5 C939.4,474.4 943.7,473.1 946.3,471.4 C948.9,469.6 950.7,469.8 953.3,467.0 C955.9,464.2 959.4,459.2 962.0,454.8 C964.6,450.4 967.4,445.5 969.0,440.8 C970.6,436.1 971.8,430.6 971.6,426.8 C971.4,423.0 964.9,420.6 968.0,418.0Z" fill="none" stroke="#c9d8f3" stroke-width="10" clip-path="url(#c7)" filter="url(#soft)"/><path d="M968.0,418.0 C971.1,415.4 982.0,412.9 990.0,411.0 C998.0,409.1 1007.8,408.4 1016.3,406.6 C1024.8,404.8 1035.5,401.4 1040.8,400.0 C1046.0,398.6 1045.2,397.9 1047.8,397.9 C1050.4,397.9 1053.9,398.2 1056.5,400.0 C1059.1,401.8 1062.0,405.2 1063.5,408.5 C1065.0,411.8 1065.4,415.9 1065.3,419.8 C1065.2,423.7 1064.5,428.2 1062.7,432.0 C1061.0,435.8 1056.4,439.0 1054.8,442.5 C1053.2,446.0 1053.0,449.5 1053.0,453.0 C1053.0,456.5 1055.2,460.3 1054.8,463.5 C1054.4,466.7 1051.0,469.1 1050.4,472.3 C1049.8,475.5 1050.0,479.3 1051.3,482.8 C1052.6,486.3 1056.3,489.5 1058.3,493.3 C1060.3,497.1 1062.8,501.1 1063.5,505.5 C1064.2,509.9 1063.6,515.4 1062.7,519.5 C1061.8,523.6 1060.5,526.8 1058.3,530.0 C1056.1,533.2 1053.6,536.2 1049.5,538.8 C1045.4,541.4 1039.0,543.2 1033.8,545.8 C1028.5,548.4 1023.8,551.4 1018.0,554.6 C1012.2,557.8 1005.5,561.9 998.8,565.1 C992.1,568.3 985.1,571.5 977.8,573.8 C970.5,576.1 961.1,578.7 955.0,579.0 C948.9,579.3 943.8,578.5 941.0,575.6 C938.2,572.7 938.2,566.9 938.4,561.6 C938.5,556.3 941.6,550.4 941.9,544.0 C942.2,537.6 940.8,529.7 940.1,523.0 C939.4,516.3 938.4,509.3 937.5,503.8 C936.6,498.3 934.9,494.2 934.9,489.8 C934.9,485.4 935.6,480.6 937.5,477.5 C939.4,474.4 943.7,473.1 946.3,471.4 C948.9,469.6 950.7,469.8 953.3,467.0 C955.9,464.2 959.4,459.2 962.0,454.8 C964.6,450.4 967.4,445.5 969.0,440.8 C970.6,436.1 971.8,430.6 971.6,426.8 C971.4,423.0 964.9,420.6 968.0,418.0Z" fill="none" stroke="#2d5592" stroke-width="2.0" stroke-linejoin="round"/><clipPath id="c8"><path d="M930.9,300.7 C933.6,300.4 937.1,301.1 939.9,303.0 C942.6,304.9 945.1,308.8 947.4,312.0 C949.6,315.2 951.5,319.4 953.4,322.4 C955.3,325.4 957.1,329.6 958.6,329.9 C960.1,330.1 960.4,326.6 962.3,323.9 C964.2,321.1 967.3,316.9 969.8,313.4 C972.3,309.9 975.0,305.7 977.3,303.0 C979.5,300.3 981.0,298.1 983.3,297.0 C985.5,295.9 988.7,295.7 990.8,296.2 C992.9,296.7 995.1,297.9 996.0,300.0 C996.9,302.1 996.4,304.5 996.0,309.0 C995.6,313.5 994.3,321.4 993.8,326.9 C993.3,332.4 992.9,337.4 993.0,341.9 C993.1,346.4 993.4,351.0 994.5,353.9 C995.6,356.8 996.4,358.7 999.8,359.1 C1003.2,359.5 1009.7,357.0 1014.7,356.1 C1019.7,355.2 1024.5,353.6 1029.7,353.9 C1035.0,354.1 1042.2,356.1 1046.2,357.6 C1050.2,359.1 1052.1,360.2 1053.7,362.9 C1055.3,365.6 1056.2,370.1 1055.9,374.0 C1055.7,377.9 1054.1,382.4 1052.2,386.5 C1050.3,390.6 1047.2,395.5 1044.7,398.4 C1042.2,401.3 1042.2,402.2 1037.2,403.7 C1032.2,405.2 1022.2,406.0 1014.7,407.4 C1007.2,408.8 999.8,410.3 992.3,411.9 C984.8,413.5 977.3,415.4 969.8,417.2 C962.3,418.9 952.9,421.6 947.4,422.4 C941.9,423.1 939.9,422.9 936.9,421.7 C933.9,420.4 931.6,417.0 929.4,414.9 C927.1,412.8 925.6,410.4 923.4,408.9 C921.2,407.4 918.2,407.5 916.0,406.0 C913.8,404.5 911.5,403.0 910.0,400.0 C908.5,397.0 909.0,393.0 907.0,388.0 C905.0,383.0 900.6,376.0 898.0,370.0 C895.4,364.0 891.7,357.2 891.2,352.0 C890.7,346.8 892.6,342.3 895.0,338.9 C897.4,335.5 902.0,333.6 905.5,331.4 C909.0,329.1 913.4,328.1 915.9,325.4 C918.4,322.7 919.1,318.5 920.4,315.0 C921.6,311.5 921.6,306.9 923.4,304.5 C925.1,302.1 928.1,300.9 930.9,300.7Z"/></clipPath><path d="M930.9,300.7 C933.6,300.4 937.1,301.1 939.9,303.0 C942.6,304.9 945.1,308.8 947.4,312.0 C949.6,315.2 951.5,319.4 953.4,322.4 C955.3,325.4 957.1,329.6 958.6,329.9 C960.1,330.1 960.4,326.6 962.3,323.9 C964.2,321.1 967.3,316.9 969.8,313.4 C972.3,309.9 975.0,305.7 977.3,303.0 C979.5,300.3 981.0,298.1 983.3,297.0 C985.5,295.9 988.7,295.7 990.8,296.2 C992.9,296.7 995.1,297.9 996.0,300.0 C996.9,302.1 996.4,304.5 996.0,309.0 C995.6,313.5 994.3,321.4 993.8,326.9 C993.3,332.4 992.9,337.4 993.0,341.9 C993.1,346.4 993.4,351.0 994.5,353.9 C995.6,356.8 996.4,358.7 999.8,359.1 C1003.2,359.5 1009.7,357.0 1014.7,356.1 C1019.7,355.2 1024.5,353.6 1029.7,353.9 C1035.0,354.1 1042.2,356.1 1046.2,357.6 C1050.2,359.1 1052.1,360.2 1053.7,362.9 C1055.3,365.6 1056.2,370.1 1055.9,374.0 C1055.7,377.9 1054.1,382.4 1052.2,386.5 C1050.3,390.6 1047.2,395.5 1044.7,398.4 C1042.2,401.3 1042.2,402.2 1037.2,403.7 C1032.2,405.2 1022.2,406.0 1014.7,407.4 C1007.2,408.8 999.8,410.3 992.3,411.9 C984.8,413.5 977.3,415.4 969.8,417.2 C962.3,418.9 952.9,421.6 947.4,422.4 C941.9,423.1 939.9,422.9 936.9,421.7 C933.9,420.4 931.6,417.0 929.4,414.9 C927.1,412.8 925.6,410.4 923.4,408.9 C921.2,407.4 918.2,407.5 916.0,406.0 C913.8,404.5 911.5,403.0 910.0,400.0 C908.5,397.0 909.0,393.0 907.0,388.0 C905.0,383.0 900.6,376.0 898.0,370.0 C895.4,364.0 891.7,357.2 891.2,352.0 C890.7,346.8 892.6,342.3 895.0,338.9 C897.4,335.5 902.0,333.6 905.5,331.4 C909.0,329.1 913.4,328.1 915.9,325.4 C918.4,322.7 919.1,318.5 920.4,315.0 C921.6,311.5 921.6,306.9 923.4,304.5 C925.1,302.1 928.1,300.9 930.9,300.7Z" fill="#ffffff"/><path d="M930.9,300.7 C933.6,300.4 937.1,301.1 939.9,303.0 C942.6,304.9 945.1,308.8 947.4,312.0 C949.6,315.2 951.5,319.4 953.4,322.4 C955.3,325.4 957.1,329.6 958.6,329.9 C960.1,330.1 960.4,326.6 962.3,323.9 C964.2,321.1 967.3,316.9 969.8,313.4 C972.3,309.9 975.0,305.7 977.3,303.0 C979.5,300.3 981.0,298.1 983.3,297.0 C985.5,295.9 988.7,295.7 990.8,296.2 C992.9,296.7 995.1,297.9 996.0,300.0 C996.9,302.1 996.4,304.5 996.0,309.0 C995.6,313.5 994.3,321.4 993.8,326.9 C993.3,332.4 992.9,337.4 993.0,341.9 C993.1,346.4 993.4,351.0 994.5,353.9 C995.6,356.8 996.4,358.7 999.8,359.1 C1003.2,359.5 1009.7,357.0 1014.7,356.1 C1019.7,355.2 1024.5,353.6 1029.7,353.9 C1035.0,354.1 1042.2,356.1 1046.2,357.6 C1050.2,359.1 1052.1,360.2 1053.7,362.9 C1055.3,365.6 1056.2,370.1 1055.9,374.0 C1055.7,377.9 1054.1,382.4 1052.2,386.5 C1050.3,390.6 1047.2,395.5 1044.7,398.4 C1042.2,401.3 1042.2,402.2 1037.2,403.7 C1032.2,405.2 1022.2,406.0 1014.7,407.4 C1007.2,408.8 999.8,410.3 992.3,411.9 C984.8,413.5 977.3,415.4 969.8,417.2 C962.3,418.9 952.9,421.6 947.4,422.4 C941.9,423.1 939.9,422.9 936.9,421.7 C933.9,420.4 931.6,417.0 929.4,414.9 C927.1,412.8 925.6,410.4 923.4,408.9 C921.2,407.4 918.2,407.5 916.0,406.0 C913.8,404.5 911.5,403.0 910.0,400.0 C908.5,397.0 909.0,393.0 907.0,388.0 C905.0,383.0 900.6,376.0 898.0,370.0 C895.4,364.0 891.7,357.2 891.2,352.0 C890.7,346.8 892.6,342.3 895.0,338.9 C897.4,335.5 902.0,333.6 905.5,331.4 C909.0,329.1 913.4,328.1 915.9,325.4 C918.4,322.7 919.1,318.5 920.4,315.0 C921.6,311.5 921.6,306.9 923.4,304.5 C925.1,302.1 928.1,300.9 930.9,300.7Z" fill="none" stroke="#c9d8f3" stroke-width="10" clip-path="url(#c8)" filter="url(#soft)"/><path d="M930.9,300.7 C933.6,300.4 937.1,301.1 939.9,303.0 C942.6,304.9 945.1,308.8 947.4,312.0 C949.6,315.2 951.5,319.4 953.4,322.4 C955.3,325.4 957.1,329.6 958.6,329.9 C960.1,330.1 960.4,326.6 962.3,323.9 C964.2,321.1 967.3,316.9 969.8,313.4 C972.3,309.9 975.0,305.7 977.3,303.0 C979.5,300.3 981.0,298.1 983.3,297.0 C985.5,295.9 988.7,295.7 990.8,296.2 C992.9,296.7 995.1,297.9 996.0,300.0 C996.9,302.1 996.4,304.5 996.0,309.0 C995.6,313.5 994.3,321.4 993.8,326.9 C993.3,332.4 992.9,337.4 993.0,341.9 C993.1,346.4 993.4,351.0 994.5,353.9 C995.6,356.8 996.4,358.7 999.8,359.1 C1003.2,359.5 1009.7,357.0 1014.7,356.1 C1019.7,355.2 1024.5,353.6 1029.7,353.9 C1035.0,354.1 1042.2,356.1 1046.2,357.6 C1050.2,359.1 1052.1,360.2 1053.7,362.9 C1055.3,365.6 1056.2,370.1 1055.9,374.0 C1055.7,377.9 1054.1,382.4 1052.2,386.5 C1050.3,390.6 1047.2,395.5 1044.7,398.4 C1042.2,401.3 1042.2,402.2 1037.2,403.7 C1032.2,405.2 1022.2,406.0 1014.7,407.4 C1007.2,408.8 999.8,410.3 992.3,411.9 C984.8,413.5 977.3,415.4 969.8,417.2 C962.3,418.9 952.9,421.6 947.4,422.4 C941.9,423.1 939.9,422.9 936.9,421.7 C933.9,420.4 931.6,417.0 929.4,414.9 C927.1,412.8 925.6,410.4 923.4,408.9 C921.2,407.4 918.2,407.5 916.0,406.0 C913.8,404.5 911.5,403.0 910.0,400.0 C908.5,397.0 909.0,393.0 907.0,388.0 C905.0,383.0 900.6,376.0 898.0,370.0 C895.4,364.0 891.7,357.2 891.2,352.0 C890.7,346.8 892.6,342.3 895.0,338.9 C897.4,335.5 902.0,333.6 905.5,331.4 C909.0,329.1 913.4,328.1 915.9,325.4 C918.4,322.7 919.1,318.5 920.4,315.0 C921.6,311.5 921.6,306.9 923.4,304.5 C925.1,302.1 928.1,300.9 930.9,300.7Z" fill="none" stroke="#2d5592" stroke-width="2.0" stroke-linejoin="round"/>

<path d="M415.8,654.7 L529.9,654.7" stroke="#151515" stroke-width="2.6"/>
<path d="M413.9,643.1 L413.9,666" stroke="#151515" stroke-width="3.6"/>
<path d="M757.1,655 L872,655" stroke="#151515" stroke-width="2.5"/>
<path d="M873,643.4 L873,665.8" stroke="#151515" stroke-width="3.6"/>
<path d="M790.2,632.1 L834.6,677.6 M834.6,632.1 L790.2,677.6" stroke="#c0323b" stroke-width="6.4" stroke-linecap="round"/>

<path d="M566.5,784.2 C568.1,784.2 572.8,784.5 576.0,784.5 C579.2,784.5 584.3,784.4 586.0,784.4" fill="none" stroke="#e69a66" stroke-width="5" stroke-linecap="round"/><path d="M669.3,780.9 C672.3,780.6 680.6,780.8 687.3,779.4 C694.0,778.0 704.2,773.9 709.7,772.6 C715.2,771.4 716.7,771.3 720.2,771.9 C723.7,772.5 727.1,774.6 730.7,776.4 C734.3,778.1 740.0,781.4 741.9,782.4" fill="none" stroke="#e69a66" stroke-width="5" stroke-linecap="round"/><path d="M633.3,721.4 C635.4,721.4 637.9,721.8 639.7,722.4 C641.5,723.0 643.8,724.6 645.3,725.6 C646.8,726.6 648.5,727.8 649.9,728.8 C651.3,729.8 653.3,730.6 654.4,732.0 C655.5,733.4 656.2,736.1 657.2,738.0 C658.2,739.9 659.8,742.3 660.9,744.4 C662.0,746.5 663.5,749.6 664.6,751.8 C665.7,754.0 667.4,756.9 668.2,759.1 C669.0,761.3 670.0,764.7 670.1,766.5 C670.2,768.3 669.0,769.5 668.7,771.1 C668.4,772.8 668.5,776.1 668.2,777.5 C667.9,778.9 666.4,779.2 666.4,780.3 C666.4,781.4 667.9,783.2 668.2,784.9 C668.5,786.5 668.7,789.1 668.7,791.3 C668.7,793.5 668.7,797.7 668.2,799.6 C667.7,801.5 666.7,803.1 665.5,804.2 C664.3,805.3 661.8,806.1 660.0,806.9 C658.2,807.7 655.6,809.0 653.5,809.7 C651.4,810.4 648.4,811.0 646.2,811.5 C644.0,812.0 641.0,813.0 638.8,813.3 C636.6,813.6 633.7,813.4 631.5,813.3 C629.3,813.2 626.3,812.7 624.1,812.4 C621.9,812.1 619.0,811.8 616.8,811.5 C614.6,811.2 611.5,811.0 609.4,810.6 C607.3,810.2 604.6,809.4 603.0,808.8 C601.4,808.2 600.1,807.6 598.4,806.9 C596.7,806.2 593.4,805.3 591.9,804.2 C590.4,803.1 588.9,801.1 588.3,799.6 C587.7,798.1 587.8,795.7 587.8,794.0 C587.8,792.3 587.9,790.1 588.3,788.5 C588.7,786.9 590.3,784.7 590.5,783.0 C590.7,781.3 589.7,778.6 589.5,777.0 C589.3,775.4 589.3,773.9 589.2,772.0 C589.1,770.1 588.7,766.7 588.7,764.6 C588.7,762.5 588.7,760.1 589.2,758.2 C589.7,756.3 591.1,753.7 591.9,751.8 C592.7,749.9 593.5,747.1 594.7,745.3 C595.9,743.5 598.4,741.6 600.2,739.8 C602.0,738.0 605.0,735.2 606.7,733.4 C608.4,731.6 609.5,729.1 611.3,727.9 C613.1,726.7 616.4,725.9 618.6,725.1 C620.8,724.3 623.8,723.0 626.0,722.4 C628.2,721.8 631.2,721.4 633.3,721.4Z" fill="url(#ribograd)" stroke="#111" stroke-width="3.6" stroke-linejoin="round"/><ellipse cx="612" cy="748" rx="7" ry="12" fill="#f7f7f9" opacity="0.9" transform="rotate(35 612 748)" filter="url(#soft)"/><path d="M594,779.3 L665,779.3" stroke="#f2f3f5" stroke-width="1.2" opacity="0.6"/><path d="M615,780.2 L647,780.9 L615,782.6Z" fill="#1c1c1c"/><path d="M659,780.8 L667,779.8 L667,781.8Z" fill="#1c1c1c"/><path d="M588,783.6 C592.5,775.6 605,775.3 618.5,781.2 C606,787.6 594,789 588,783.6Z" fill="#1a1a1a"/><path d="M585,784.4 C594,783.6 603,782.4 612.5,781.7" fill="none" stroke="#e69a66" stroke-width="4.8" stroke-linecap="round"/><path d="M473.8,864.9 C475.4,865.0 480.1,865.2 483.3,865.2 C486.6,865.2 491.6,865.1 493.3,865.1" fill="none" stroke="#e69a66" stroke-width="5" stroke-linecap="round"/><path d="M578.5,862.0 C583.2,861.6 598.1,861.1 606.8,859.6 C615.5,858.1 623.9,855.1 630.5,853.3 C637.1,851.5 641.2,849.5 646.2,848.6 C651.2,847.7 658.0,847.9 660.4,847.8" fill="none" stroke="#e69a66" stroke-width="5" stroke-linecap="round"/><path d="M542.1,801.4 C544.2,801.5 547.6,802.5 549.5,803.3 C551.4,804.1 553.2,805.9 555.0,807.0 C556.8,808.1 559.9,809.2 561.4,810.6 C562.9,812.0 563.9,814.0 565.1,816.1 C566.3,818.2 568.3,821.8 569.7,824.4 C571.1,827.0 573.1,830.8 574.3,833.6 C575.5,836.4 577.3,840.6 578.0,842.8 C578.7,845.0 579.0,846.6 578.9,848.3 C578.8,849.9 577.7,852.2 577.5,853.8 C577.3,855.4 577.8,857.7 577.5,858.8 C577.2,859.9 575.7,860.4 575.7,861.2 C575.7,862.0 577.2,863.1 577.5,864.0 C577.8,864.9 577.8,865.7 577.8,867.5 C577.8,869.3 577.9,873.5 577.5,875.9 C577.1,878.3 576.5,881.4 575.2,883.2 C573.9,885.0 571.0,886.7 568.8,887.8 C566.6,888.9 563.1,889.8 560.5,890.6 C557.9,891.4 554.1,892.9 551.3,893.3 C548.5,893.7 545.1,893.4 542.1,893.3 C539.1,893.2 534.1,892.7 531.1,892.4 C528.1,892.1 524.7,891.9 521.9,891.5 C519.1,891.1 515.2,890.5 512.7,889.7 C510.2,888.9 507.6,887.2 505.4,886.0 C503.2,884.8 499.4,883.0 498.0,881.4 C496.6,879.8 496.4,876.9 496.2,875.0 C496.0,873.1 496.5,870.1 496.7,868.5 C496.9,866.9 497.5,865.9 497.6,864.5 C497.7,863.1 497.4,860.6 497.5,859.0 C497.6,857.4 498.1,856.0 498.0,853.8 C497.9,851.6 497.1,847.1 497.1,844.6 C497.1,842.1 497.4,839.5 498.0,837.3 C498.6,835.1 499.8,831.8 500.8,829.9 C501.8,828.0 503.1,825.9 504.5,824.4 C505.9,822.9 508.2,821.4 510.0,819.8 C511.8,818.1 514.8,815.2 516.4,813.4 C518.0,811.6 519.2,809.1 521.0,807.9 C522.8,806.7 526.2,805.9 528.4,805.1 C530.6,804.3 533.6,803.0 535.7,802.4 C537.8,801.8 540.0,801.3 542.1,801.4Z" fill="url(#ribograd)" stroke="#111" stroke-width="3.6" stroke-linejoin="round"/><ellipse cx="519.3" cy="828.7" rx="7" ry="12" fill="#f7f7f9" opacity="0.9" transform="rotate(35 519.3 828.7)" filter="url(#soft)"/><path d="M501.3,860.0 L572.3,860.0" stroke="#f2f3f5" stroke-width="1.2" opacity="0.6"/><path d="M522.3,860.9000000000001 L554.3,861.6 L522.3,863.3000000000001Z" fill="#1c1c1c"/><path d="M566.3,861.5 L574.3,860.5 L574.3,862.5Z" fill="#1c1c1c"/><path d="M495.3,864.3000000000001 C499.8,856.3000000000001 512.3,856.0 525.8,861.9000000000001 C513.3,868.3000000000001 501.3,869.7 495.3,864.3000000000001Z" fill="#1a1a1a"/><path d="M492.3,865.1 C501.3,864.3000000000001 510.3,863.1 519.8,862.4000000000001" fill="none" stroke="#e69a66" stroke-width="4.8" stroke-linecap="round"/><path d="M670.7,864.9 C672.3,865.0 677.0,865.2 680.2,865.2 C683.5,865.2 688.5,865.1 690.2,865.1" fill="none" stroke="#3f8ae0" stroke-width="5" stroke-linecap="round"/><path d="M773.7,860.4 C776.6,861.6 785.6,864.9 791.1,867.5 C796.6,870.1 801.5,874.8 806.8,876.2 C812.0,877.7 817.3,876.9 822.6,876.2 C827.9,875.5 834.2,873.0 838.4,872.2 C842.6,871.4 846.2,871.5 847.8,871.4" fill="none" stroke="#3f8ae0" stroke-width="5" stroke-linecap="round"/><path d="M739.0,801.4 C741.1,801.5 744.5,802.5 746.4,803.3 C748.3,804.1 750.1,805.9 751.9,807.0 C753.7,808.1 756.8,809.2 758.3,810.6 C759.8,812.0 760.8,814.0 762.0,816.1 C763.2,818.2 765.2,821.8 766.6,824.4 C768.0,827.0 770.0,830.8 771.2,833.6 C772.4,836.4 774.2,840.6 774.9,842.8 C775.6,845.0 775.9,846.6 775.8,848.3 C775.7,849.9 774.6,852.2 774.4,853.8 C774.2,855.4 774.7,857.7 774.4,858.8 C774.1,859.9 772.6,860.4 772.6,861.2 C772.6,862.0 774.1,863.1 774.4,864.0 C774.7,864.9 774.7,865.7 774.7,867.5 C774.7,869.3 774.8,873.5 774.4,875.9 C774.0,878.3 773.4,881.4 772.1,883.2 C770.8,885.0 767.9,886.7 765.7,887.8 C763.5,888.9 760.0,889.8 757.4,890.6 C754.8,891.4 751.0,892.9 748.2,893.3 C745.4,893.7 742.0,893.4 739.0,893.3 C736.0,893.2 731.0,892.7 728.0,892.4 C725.0,892.1 721.6,891.9 718.8,891.5 C716.0,891.1 712.1,890.5 709.6,889.7 C707.1,888.9 704.5,887.2 702.3,886.0 C700.1,884.8 696.3,883.0 694.9,881.4 C693.5,879.8 693.3,876.9 693.1,875.0 C692.9,873.1 693.4,870.1 693.6,868.5 C693.8,866.9 694.4,865.9 694.5,864.5 C694.6,863.1 694.3,860.6 694.4,859.0 C694.5,857.4 695.0,856.0 694.9,853.8 C694.8,851.6 694.0,847.1 694.0,844.6 C694.0,842.1 694.3,839.5 694.9,837.3 C695.5,835.1 696.7,831.8 697.7,829.9 C698.7,828.0 700.0,825.9 701.4,824.4 C702.8,822.9 705.1,821.4 706.9,819.8 C708.7,818.1 711.6,815.2 713.3,813.4 C714.9,811.6 716.1,809.1 717.9,807.9 C719.7,806.7 723.1,805.9 725.3,805.1 C727.5,804.3 730.5,803.0 732.6,802.4 C734.7,801.8 736.9,801.3 739.0,801.4Z" fill="url(#ribograd)" stroke="#111" stroke-width="3.6" stroke-linejoin="round"/><ellipse cx="716.2" cy="828.7" rx="7" ry="12" fill="#f7f7f9" opacity="0.9" transform="rotate(35 716.2 828.7)" filter="url(#soft)"/><path d="M698.2,860.0 L769.2,860.0" stroke="#f2f3f5" stroke-width="1.2" opacity="0.6"/><path d="M719.2,860.9000000000001 L751.2,861.6 L719.2,863.3000000000001Z" fill="#1c1c1c"/><path d="M763.2,861.5 L771.2,860.5 L771.2,862.5Z" fill="#1c1c1c"/><path d="M692.2,864.3000000000001 C696.7,856.3000000000001 709.2,856.0 722.7,861.9000000000001 C710.2,868.3000000000001 698.2,869.7 692.2,864.3000000000001Z" fill="#1a1a1a"/><path d="M689.2,865.1 C698.2,864.3000000000001 707.2,863.1 716.7,862.4000000000001" fill="none" stroke="#3f8ae0" stroke-width="4.8" stroke-linecap="round"/>
<clipPath id="c9"><path d="M185.1,967.3 C189.0,964.6 197.4,962.8 203.3,961.3 C209.2,959.8 215.3,958.9 220.7,958.2 C226.0,957.5 231.7,956.5 235.4,956.9 C239.2,957.3 240.6,958.2 243.2,960.4 C245.8,962.6 248.4,966.9 251.0,969.9 C253.6,972.9 257.0,975.9 258.8,978.6 C260.6,981.4 261.8,983.8 261.9,986.4 C262.0,989.0 261.5,991.3 259.7,994.2 C257.9,997.1 253.8,1000.2 251.0,1003.7 C248.2,1007.2 245.6,1011.7 243.2,1015.0 C240.8,1018.3 238.9,1022.1 236.3,1023.7 C233.7,1025.3 230.9,1024.8 227.6,1024.5 C224.3,1024.2 221.1,1023.0 216.3,1022.0 C211.5,1021.0 204.8,1019.4 199.0,1018.5 C193.2,1017.6 186.6,1017.2 181.7,1016.8 C176.8,1016.4 171.8,1017.1 169.5,1015.9 C167.2,1014.7 167.5,1012.1 167.8,1009.8 C168.1,1007.5 169.9,1005.0 171.3,1002.0 C172.8,999.0 175.1,995.6 176.5,991.6 C177.9,987.6 178.5,981.8 179.9,977.7 C181.3,973.7 181.2,970.0 185.1,967.3Z"/></clipPath><path d="M185.1,967.3 C189.0,964.6 197.4,962.8 203.3,961.3 C209.2,959.8 215.3,958.9 220.7,958.2 C226.0,957.5 231.7,956.5 235.4,956.9 C239.2,957.3 240.6,958.2 243.2,960.4 C245.8,962.6 248.4,966.9 251.0,969.9 C253.6,972.9 257.0,975.9 258.8,978.6 C260.6,981.4 261.8,983.8 261.9,986.4 C262.0,989.0 261.5,991.3 259.7,994.2 C257.9,997.1 253.8,1000.2 251.0,1003.7 C248.2,1007.2 245.6,1011.7 243.2,1015.0 C240.8,1018.3 238.9,1022.1 236.3,1023.7 C233.7,1025.3 230.9,1024.8 227.6,1024.5 C224.3,1024.2 221.1,1023.0 216.3,1022.0 C211.5,1021.0 204.8,1019.4 199.0,1018.5 C193.2,1017.6 186.6,1017.2 181.7,1016.8 C176.8,1016.4 171.8,1017.1 169.5,1015.9 C167.2,1014.7 167.5,1012.1 167.8,1009.8 C168.1,1007.5 169.9,1005.0 171.3,1002.0 C172.8,999.0 175.1,995.6 176.5,991.6 C177.9,987.6 178.5,981.8 179.9,977.7 C181.3,973.7 181.2,970.0 185.1,967.3Z" fill="#fffaf5"/><path d="M185.1,967.3 C189.0,964.6 197.4,962.8 203.3,961.3 C209.2,959.8 215.3,958.9 220.7,958.2 C226.0,957.5 231.7,956.5 235.4,956.9 C239.2,957.3 240.6,958.2 243.2,960.4 C245.8,962.6 248.4,966.9 251.0,969.9 C253.6,972.9 257.0,975.9 258.8,978.6 C260.6,981.4 261.8,983.8 261.9,986.4 C262.0,989.0 261.5,991.3 259.7,994.2 C257.9,997.1 253.8,1000.2 251.0,1003.7 C248.2,1007.2 245.6,1011.7 243.2,1015.0 C240.8,1018.3 238.9,1022.1 236.3,1023.7 C233.7,1025.3 230.9,1024.8 227.6,1024.5 C224.3,1024.2 221.1,1023.0 216.3,1022.0 C211.5,1021.0 204.8,1019.4 199.0,1018.5 C193.2,1017.6 186.6,1017.2 181.7,1016.8 C176.8,1016.4 171.8,1017.1 169.5,1015.9 C167.2,1014.7 167.5,1012.1 167.8,1009.8 C168.1,1007.5 169.9,1005.0 171.3,1002.0 C172.8,999.0 175.1,995.6 176.5,991.6 C177.9,987.6 178.5,981.8 179.9,977.7 C181.3,973.7 181.2,970.0 185.1,967.3Z" fill="none" stroke="#f9dfc0" stroke-width="9" clip-path="url(#c9)" filter="url(#soft)"/><path d="M185.1,967.3 C189.0,964.6 197.4,962.8 203.3,961.3 C209.2,959.8 215.3,958.9 220.7,958.2 C226.0,957.5 231.7,956.5 235.4,956.9 C239.2,957.3 240.6,958.2 243.2,960.4 C245.8,962.6 248.4,966.9 251.0,969.9 C253.6,972.9 257.0,975.9 258.8,978.6 C260.6,981.4 261.8,983.8 261.9,986.4 C262.0,989.0 261.5,991.3 259.7,994.2 C257.9,997.1 253.8,1000.2 251.0,1003.7 C248.2,1007.2 245.6,1011.7 243.2,1015.0 C240.8,1018.3 238.9,1022.1 236.3,1023.7 C233.7,1025.3 230.9,1024.8 227.6,1024.5 C224.3,1024.2 221.1,1023.0 216.3,1022.0 C211.5,1021.0 204.8,1019.4 199.0,1018.5 C193.2,1017.6 186.6,1017.2 181.7,1016.8 C176.8,1016.4 171.8,1017.1 169.5,1015.9 C167.2,1014.7 167.5,1012.1 167.8,1009.8 C168.1,1007.5 169.9,1005.0 171.3,1002.0 C172.8,999.0 175.1,995.6 176.5,991.6 C177.9,987.6 178.5,981.8 179.9,977.7 C181.3,973.7 181.2,970.0 185.1,967.3Z" fill="none" stroke="#8b7150" stroke-width="1.7" stroke-linejoin="round"/><clipPath id="c10"><path d="M73.9,1069.1 C76.0,1067.9 80.6,1068.2 85.2,1067.2 C89.8,1066.2 95.9,1064.9 101.6,1063.4 C107.3,1061.9 114.0,1060.3 119.3,1058.4 C124.5,1056.5 128.7,1054.2 133.1,1052.1 C137.5,1050.0 141.6,1046.8 145.8,1045.8 C150.0,1044.8 153.8,1045.0 158.4,1045.8 C163.0,1046.6 168.5,1048.9 173.5,1050.8 C178.5,1052.7 184.7,1055.1 188.6,1057.1 C192.5,1059.1 195.3,1060.8 196.8,1062.8 C198.3,1064.8 198.0,1067.0 197.5,1069.1 C197.0,1071.2 196.0,1073.7 193.7,1075.4 C191.4,1077.1 187.0,1078.2 183.6,1079.2 C180.2,1080.2 176.0,1080.2 173.5,1081.7 C171.0,1083.2 170.3,1085.7 168.4,1088.0 C166.5,1090.3 165.0,1093.9 162.1,1095.6 C159.2,1097.3 155.6,1097.7 150.8,1098.1 C146.0,1098.5 139.0,1097.7 133.1,1098.1 C127.2,1098.5 121.0,1100.0 115.5,1100.6 C110.0,1101.2 105.0,1102.2 100.4,1101.9 C95.8,1101.6 91.3,1100.4 87.7,1098.7 C84.1,1097.0 81.3,1094.4 78.9,1091.8 C76.5,1089.2 74.2,1086.0 73.2,1083.0 C72.2,1080.0 72.5,1076.4 72.6,1074.1 C72.7,1071.8 71.8,1070.2 73.9,1069.1Z"/></clipPath><path d="M73.9,1069.1 C76.0,1067.9 80.6,1068.2 85.2,1067.2 C89.8,1066.2 95.9,1064.9 101.6,1063.4 C107.3,1061.9 114.0,1060.3 119.3,1058.4 C124.5,1056.5 128.7,1054.2 133.1,1052.1 C137.5,1050.0 141.6,1046.8 145.8,1045.8 C150.0,1044.8 153.8,1045.0 158.4,1045.8 C163.0,1046.6 168.5,1048.9 173.5,1050.8 C178.5,1052.7 184.7,1055.1 188.6,1057.1 C192.5,1059.1 195.3,1060.8 196.8,1062.8 C198.3,1064.8 198.0,1067.0 197.5,1069.1 C197.0,1071.2 196.0,1073.7 193.7,1075.4 C191.4,1077.1 187.0,1078.2 183.6,1079.2 C180.2,1080.2 176.0,1080.2 173.5,1081.7 C171.0,1083.2 170.3,1085.7 168.4,1088.0 C166.5,1090.3 165.0,1093.9 162.1,1095.6 C159.2,1097.3 155.6,1097.7 150.8,1098.1 C146.0,1098.5 139.0,1097.7 133.1,1098.1 C127.2,1098.5 121.0,1100.0 115.5,1100.6 C110.0,1101.2 105.0,1102.2 100.4,1101.9 C95.8,1101.6 91.3,1100.4 87.7,1098.7 C84.1,1097.0 81.3,1094.4 78.9,1091.8 C76.5,1089.2 74.2,1086.0 73.2,1083.0 C72.2,1080.0 72.5,1076.4 72.6,1074.1 C72.7,1071.8 71.8,1070.2 73.9,1069.1Z" fill="#fffaf5"/><path d="M73.9,1069.1 C76.0,1067.9 80.6,1068.2 85.2,1067.2 C89.8,1066.2 95.9,1064.9 101.6,1063.4 C107.3,1061.9 114.0,1060.3 119.3,1058.4 C124.5,1056.5 128.7,1054.2 133.1,1052.1 C137.5,1050.0 141.6,1046.8 145.8,1045.8 C150.0,1044.8 153.8,1045.0 158.4,1045.8 C163.0,1046.6 168.5,1048.9 173.5,1050.8 C178.5,1052.7 184.7,1055.1 188.6,1057.1 C192.5,1059.1 195.3,1060.8 196.8,1062.8 C198.3,1064.8 198.0,1067.0 197.5,1069.1 C197.0,1071.2 196.0,1073.7 193.7,1075.4 C191.4,1077.1 187.0,1078.2 183.6,1079.2 C180.2,1080.2 176.0,1080.2 173.5,1081.7 C171.0,1083.2 170.3,1085.7 168.4,1088.0 C166.5,1090.3 165.0,1093.9 162.1,1095.6 C159.2,1097.3 155.6,1097.7 150.8,1098.1 C146.0,1098.5 139.0,1097.7 133.1,1098.1 C127.2,1098.5 121.0,1100.0 115.5,1100.6 C110.0,1101.2 105.0,1102.2 100.4,1101.9 C95.8,1101.6 91.3,1100.4 87.7,1098.7 C84.1,1097.0 81.3,1094.4 78.9,1091.8 C76.5,1089.2 74.2,1086.0 73.2,1083.0 C72.2,1080.0 72.5,1076.4 72.6,1074.1 C72.7,1071.8 71.8,1070.2 73.9,1069.1Z" fill="none" stroke="#f9dfc0" stroke-width="9" clip-path="url(#c10)" filter="url(#soft)"/><path d="M73.9,1069.1 C76.0,1067.9 80.6,1068.2 85.2,1067.2 C89.8,1066.2 95.9,1064.9 101.6,1063.4 C107.3,1061.9 114.0,1060.3 119.3,1058.4 C124.5,1056.5 128.7,1054.2 133.1,1052.1 C137.5,1050.0 141.6,1046.8 145.8,1045.8 C150.0,1044.8 153.8,1045.0 158.4,1045.8 C163.0,1046.6 168.5,1048.9 173.5,1050.8 C178.5,1052.7 184.7,1055.1 188.6,1057.1 C192.5,1059.1 195.3,1060.8 196.8,1062.8 C198.3,1064.8 198.0,1067.0 197.5,1069.1 C197.0,1071.2 196.0,1073.7 193.7,1075.4 C191.4,1077.1 187.0,1078.2 183.6,1079.2 C180.2,1080.2 176.0,1080.2 173.5,1081.7 C171.0,1083.2 170.3,1085.7 168.4,1088.0 C166.5,1090.3 165.0,1093.9 162.1,1095.6 C159.2,1097.3 155.6,1097.7 150.8,1098.1 C146.0,1098.5 139.0,1097.7 133.1,1098.1 C127.2,1098.5 121.0,1100.0 115.5,1100.6 C110.0,1101.2 105.0,1102.2 100.4,1101.9 C95.8,1101.6 91.3,1100.4 87.7,1098.7 C84.1,1097.0 81.3,1094.4 78.9,1091.8 C76.5,1089.2 74.2,1086.0 73.2,1083.0 C72.2,1080.0 72.5,1076.4 72.6,1074.1 C72.7,1071.8 71.8,1070.2 73.9,1069.1Z" fill="none" stroke="#8b7150" stroke-width="1.7" stroke-linejoin="round"/><clipPath id="c11"><path d="M329.7,1024.6 C333.3,1025.9 336.6,1028.0 337.7,1031.4 C338.8,1034.8 337.8,1040.1 336.5,1045.1 C335.2,1050.0 333.5,1055.8 329.7,1061.1 C325.9,1066.4 320.6,1072.9 313.7,1077.1 C306.8,1081.3 295.8,1084.2 288.5,1086.3 C281.2,1088.4 275.5,1090.5 270.2,1089.7 C264.9,1088.9 259.4,1085.3 256.5,1081.7 C253.7,1078.1 252.3,1072.2 253.1,1068.0 C253.9,1063.8 256.7,1060.3 261.1,1056.5 C265.5,1052.7 272.9,1049.7 279.4,1045.1 C285.9,1040.5 293.9,1032.7 300.0,1029.1 C306.1,1025.5 311.1,1024.2 316.0,1023.4 C320.9,1022.6 326.1,1023.3 329.7,1024.6Z"/></clipPath><path d="M329.7,1024.6 C333.3,1025.9 336.6,1028.0 337.7,1031.4 C338.8,1034.8 337.8,1040.1 336.5,1045.1 C335.2,1050.0 333.5,1055.8 329.7,1061.1 C325.9,1066.4 320.6,1072.9 313.7,1077.1 C306.8,1081.3 295.8,1084.2 288.5,1086.3 C281.2,1088.4 275.5,1090.5 270.2,1089.7 C264.9,1088.9 259.4,1085.3 256.5,1081.7 C253.7,1078.1 252.3,1072.2 253.1,1068.0 C253.9,1063.8 256.7,1060.3 261.1,1056.5 C265.5,1052.7 272.9,1049.7 279.4,1045.1 C285.9,1040.5 293.9,1032.7 300.0,1029.1 C306.1,1025.5 311.1,1024.2 316.0,1023.4 C320.9,1022.6 326.1,1023.3 329.7,1024.6Z" fill="#fffaf5"/><path d="M329.7,1024.6 C333.3,1025.9 336.6,1028.0 337.7,1031.4 C338.8,1034.8 337.8,1040.1 336.5,1045.1 C335.2,1050.0 333.5,1055.8 329.7,1061.1 C325.9,1066.4 320.6,1072.9 313.7,1077.1 C306.8,1081.3 295.8,1084.2 288.5,1086.3 C281.2,1088.4 275.5,1090.5 270.2,1089.7 C264.9,1088.9 259.4,1085.3 256.5,1081.7 C253.7,1078.1 252.3,1072.2 253.1,1068.0 C253.9,1063.8 256.7,1060.3 261.1,1056.5 C265.5,1052.7 272.9,1049.7 279.4,1045.1 C285.9,1040.5 293.9,1032.7 300.0,1029.1 C306.1,1025.5 311.1,1024.2 316.0,1023.4 C320.9,1022.6 326.1,1023.3 329.7,1024.6Z" fill="none" stroke="#f9dfc0" stroke-width="9" clip-path="url(#c11)" filter="url(#soft)"/><path d="M329.7,1024.6 C333.3,1025.9 336.6,1028.0 337.7,1031.4 C338.8,1034.8 337.8,1040.1 336.5,1045.1 C335.2,1050.0 333.5,1055.8 329.7,1061.1 C325.9,1066.4 320.6,1072.9 313.7,1077.1 C306.8,1081.3 295.8,1084.2 288.5,1086.3 C281.2,1088.4 275.5,1090.5 270.2,1089.7 C264.9,1088.9 259.4,1085.3 256.5,1081.7 C253.7,1078.1 252.3,1072.2 253.1,1068.0 C253.9,1063.8 256.7,1060.3 261.1,1056.5 C265.5,1052.7 272.9,1049.7 279.4,1045.1 C285.9,1040.5 293.9,1032.7 300.0,1029.1 C306.1,1025.5 311.1,1024.2 316.0,1023.4 C320.9,1022.6 326.1,1023.3 329.7,1024.6Z" fill="none" stroke="#8b7150" stroke-width="1.7" stroke-linejoin="round"/>
<clipPath id="c12"><path d="M941.9,982.3 C943.9,981.7 945.2,983.2 946.2,985.3 C947.2,987.4 947.3,992.0 948.0,995.1 C948.7,998.2 948.6,1000.6 950.4,1003.7 C952.2,1006.8 957.1,1010.0 959.0,1013.5 C960.9,1017.0 961.6,1021.1 962.0,1025.0 C962.4,1028.9 963.0,1034.3 961.5,1036.8 C960.0,1039.3 955.6,1039.7 952.9,1039.9 C950.2,1040.1 948.5,1039.3 945.5,1038.0 C942.5,1036.7 937.9,1034.5 935.0,1032.0 C932.1,1029.5 930.1,1026.8 928.4,1023.3 C926.7,1019.8 924.7,1014.8 924.7,1011.1 C924.7,1007.4 926.8,1005.0 928.4,1001.3 C930.0,997.6 932.2,992.2 934.5,989.0 C936.8,985.8 939.9,982.9 941.9,982.3Z"/></clipPath><path d="M941.9,982.3 C943.9,981.7 945.2,983.2 946.2,985.3 C947.2,987.4 947.3,992.0 948.0,995.1 C948.7,998.2 948.6,1000.6 950.4,1003.7 C952.2,1006.8 957.1,1010.0 959.0,1013.5 C960.9,1017.0 961.6,1021.1 962.0,1025.0 C962.4,1028.9 963.0,1034.3 961.5,1036.8 C960.0,1039.3 955.6,1039.7 952.9,1039.9 C950.2,1040.1 948.5,1039.3 945.5,1038.0 C942.5,1036.7 937.9,1034.5 935.0,1032.0 C932.1,1029.5 930.1,1026.8 928.4,1023.3 C926.7,1019.8 924.7,1014.8 924.7,1011.1 C924.7,1007.4 926.8,1005.0 928.4,1001.3 C930.0,997.6 932.2,992.2 934.5,989.0 C936.8,985.8 939.9,982.9 941.9,982.3Z" fill="#ffffff"/><path d="M941.9,982.3 C943.9,981.7 945.2,983.2 946.2,985.3 C947.2,987.4 947.3,992.0 948.0,995.1 C948.7,998.2 948.6,1000.6 950.4,1003.7 C952.2,1006.8 957.1,1010.0 959.0,1013.5 C960.9,1017.0 961.6,1021.1 962.0,1025.0 C962.4,1028.9 963.0,1034.3 961.5,1036.8 C960.0,1039.3 955.6,1039.7 952.9,1039.9 C950.2,1040.1 948.5,1039.3 945.5,1038.0 C942.5,1036.7 937.9,1034.5 935.0,1032.0 C932.1,1029.5 930.1,1026.8 928.4,1023.3 C926.7,1019.8 924.7,1014.8 924.7,1011.1 C924.7,1007.4 926.8,1005.0 928.4,1001.3 C930.0,997.6 932.2,992.2 934.5,989.0 C936.8,985.8 939.9,982.9 941.9,982.3Z" fill="none" stroke="#d9e3f6" stroke-width="8" clip-path="url(#c12)" filter="url(#soft)"/><path d="M941.9,982.3 C943.9,981.7 945.2,983.2 946.2,985.3 C947.2,987.4 947.3,992.0 948.0,995.1 C948.7,998.2 948.6,1000.6 950.4,1003.7 C952.2,1006.8 957.1,1010.0 959.0,1013.5 C960.9,1017.0 961.6,1021.1 962.0,1025.0 C962.4,1028.9 963.0,1034.3 961.5,1036.8 C960.0,1039.3 955.6,1039.7 952.9,1039.9 C950.2,1040.1 948.5,1039.3 945.5,1038.0 C942.5,1036.7 937.9,1034.5 935.0,1032.0 C932.1,1029.5 930.1,1026.8 928.4,1023.3 C926.7,1019.8 924.7,1014.8 924.7,1011.1 C924.7,1007.4 926.8,1005.0 928.4,1001.3 C930.0,997.6 932.2,992.2 934.5,989.0 C936.8,985.8 939.9,982.9 941.9,982.3Z" fill="none" stroke="#23457d" stroke-width="2.1" stroke-linejoin="round"/><clipPath id="c13"><path d="M975.0,990.0 C977.8,989.6 981.7,996.5 983.5,1000.0 C985.3,1003.5 984.4,1007.8 986.0,1011.1 C987.6,1014.4 991.3,1016.9 993.3,1019.7 C995.3,1022.6 997.4,1025.2 998.2,1028.2 C999.0,1031.2 999.0,1035.1 998.2,1038.0 C997.4,1040.9 995.8,1044.0 993.3,1045.4 C990.8,1046.8 987.2,1047.2 983.5,1046.6 C979.8,1046.0 975.0,1044.0 971.3,1041.7 C967.6,1039.5 963.8,1036.2 961.5,1033.1 C959.2,1030.0 958.2,1026.6 957.8,1023.3 C957.4,1020.0 957.5,1017.0 959.0,1013.5 C960.5,1010.0 964.3,1006.4 967.0,1002.5 C969.7,998.6 972.2,990.4 975.0,990.0Z"/></clipPath><path d="M975.0,990.0 C977.8,989.6 981.7,996.5 983.5,1000.0 C985.3,1003.5 984.4,1007.8 986.0,1011.1 C987.6,1014.4 991.3,1016.9 993.3,1019.7 C995.3,1022.6 997.4,1025.2 998.2,1028.2 C999.0,1031.2 999.0,1035.1 998.2,1038.0 C997.4,1040.9 995.8,1044.0 993.3,1045.4 C990.8,1046.8 987.2,1047.2 983.5,1046.6 C979.8,1046.0 975.0,1044.0 971.3,1041.7 C967.6,1039.5 963.8,1036.2 961.5,1033.1 C959.2,1030.0 958.2,1026.6 957.8,1023.3 C957.4,1020.0 957.5,1017.0 959.0,1013.5 C960.5,1010.0 964.3,1006.4 967.0,1002.5 C969.7,998.6 972.2,990.4 975.0,990.0Z" fill="#ffffff"/><path d="M975.0,990.0 C977.8,989.6 981.7,996.5 983.5,1000.0 C985.3,1003.5 984.4,1007.8 986.0,1011.1 C987.6,1014.4 991.3,1016.9 993.3,1019.7 C995.3,1022.6 997.4,1025.2 998.2,1028.2 C999.0,1031.2 999.0,1035.1 998.2,1038.0 C997.4,1040.9 995.8,1044.0 993.3,1045.4 C990.8,1046.8 987.2,1047.2 983.5,1046.6 C979.8,1046.0 975.0,1044.0 971.3,1041.7 C967.6,1039.5 963.8,1036.2 961.5,1033.1 C959.2,1030.0 958.2,1026.6 957.8,1023.3 C957.4,1020.0 957.5,1017.0 959.0,1013.5 C960.5,1010.0 964.3,1006.4 967.0,1002.5 C969.7,998.6 972.2,990.4 975.0,990.0Z" fill="none" stroke="#d9e3f6" stroke-width="8" clip-path="url(#c13)" filter="url(#soft)"/><path d="M975.0,990.0 C977.8,989.6 981.7,996.5 983.5,1000.0 C985.3,1003.5 984.4,1007.8 986.0,1011.1 C987.6,1014.4 991.3,1016.9 993.3,1019.7 C995.3,1022.6 997.4,1025.2 998.2,1028.2 C999.0,1031.2 999.0,1035.1 998.2,1038.0 C997.4,1040.9 995.8,1044.0 993.3,1045.4 C990.8,1046.8 987.2,1047.2 983.5,1046.6 C979.8,1046.0 975.0,1044.0 971.3,1041.7 C967.6,1039.5 963.8,1036.2 961.5,1033.1 C959.2,1030.0 958.2,1026.6 957.8,1023.3 C957.4,1020.0 957.5,1017.0 959.0,1013.5 C960.5,1010.0 964.3,1006.4 967.0,1002.5 C969.7,998.6 972.2,990.4 975.0,990.0Z" fill="none" stroke="#23457d" stroke-width="2.1" stroke-linejoin="round"/><clipPath id="c14"><path d="M976.2,951.0 C978.1,951.0 980.1,951.2 981.1,953.5 C982.1,955.8 981.3,960.6 982.3,964.5 C983.3,968.4 985.0,973.1 987.2,976.8 C989.5,980.5 993.9,983.5 995.8,986.6 C997.7,989.7 998.6,992.5 998.8,995.1 C999.0,997.8 998.5,1000.5 997.0,1002.5 C995.5,1004.5 992.8,1006.6 989.7,1007.4 C986.6,1008.2 982.3,1008.4 978.6,1007.4 C974.9,1006.4 970.9,1003.9 967.6,1001.3 C964.3,998.6 960.6,995.0 959.0,991.5 C957.4,988.0 957.4,983.7 957.8,980.4 C958.2,977.1 960.1,974.5 961.5,971.9 C962.9,969.2 965.0,967.6 966.4,964.5 C967.8,961.4 968.4,955.8 970.0,953.5 C971.6,951.2 974.4,951.0 976.2,951.0Z"/></clipPath><path d="M976.2,951.0 C978.1,951.0 980.1,951.2 981.1,953.5 C982.1,955.8 981.3,960.6 982.3,964.5 C983.3,968.4 985.0,973.1 987.2,976.8 C989.5,980.5 993.9,983.5 995.8,986.6 C997.7,989.7 998.6,992.5 998.8,995.1 C999.0,997.8 998.5,1000.5 997.0,1002.5 C995.5,1004.5 992.8,1006.6 989.7,1007.4 C986.6,1008.2 982.3,1008.4 978.6,1007.4 C974.9,1006.4 970.9,1003.9 967.6,1001.3 C964.3,998.6 960.6,995.0 959.0,991.5 C957.4,988.0 957.4,983.7 957.8,980.4 C958.2,977.1 960.1,974.5 961.5,971.9 C962.9,969.2 965.0,967.6 966.4,964.5 C967.8,961.4 968.4,955.8 970.0,953.5 C971.6,951.2 974.4,951.0 976.2,951.0Z" fill="#ffffff"/><path d="M976.2,951.0 C978.1,951.0 980.1,951.2 981.1,953.5 C982.1,955.8 981.3,960.6 982.3,964.5 C983.3,968.4 985.0,973.1 987.2,976.8 C989.5,980.5 993.9,983.5 995.8,986.6 C997.7,989.7 998.6,992.5 998.8,995.1 C999.0,997.8 998.5,1000.5 997.0,1002.5 C995.5,1004.5 992.8,1006.6 989.7,1007.4 C986.6,1008.2 982.3,1008.4 978.6,1007.4 C974.9,1006.4 970.9,1003.9 967.6,1001.3 C964.3,998.6 960.6,995.0 959.0,991.5 C957.4,988.0 957.4,983.7 957.8,980.4 C958.2,977.1 960.1,974.5 961.5,971.9 C962.9,969.2 965.0,967.6 966.4,964.5 C967.8,961.4 968.4,955.8 970.0,953.5 C971.6,951.2 974.4,951.0 976.2,951.0Z" fill="none" stroke="#d9e3f6" stroke-width="8" clip-path="url(#c14)" filter="url(#soft)"/><path d="M976.2,951.0 C978.1,951.0 980.1,951.2 981.1,953.5 C982.1,955.8 981.3,960.6 982.3,964.5 C983.3,968.4 985.0,973.1 987.2,976.8 C989.5,980.5 993.9,983.5 995.8,986.6 C997.7,989.7 998.6,992.5 998.8,995.1 C999.0,997.8 998.5,1000.5 997.0,1002.5 C995.5,1004.5 992.8,1006.6 989.7,1007.4 C986.6,1008.2 982.3,1008.4 978.6,1007.4 C974.9,1006.4 970.9,1003.9 967.6,1001.3 C964.3,998.6 960.6,995.0 959.0,991.5 C957.4,988.0 957.4,983.7 957.8,980.4 C958.2,977.1 960.1,974.5 961.5,971.9 C962.9,969.2 965.0,967.6 966.4,964.5 C967.8,961.4 968.4,955.8 970.0,953.5 C971.6,951.2 974.4,951.0 976.2,951.0Z" fill="none" stroke="#23457d" stroke-width="2.1" stroke-linejoin="round"/><clipPath id="c15"><path d="M937.0,1018.4 C938.4,1018.4 940.7,1018.6 941.9,1020.9 C943.1,1023.1 943.3,1028.4 944.3,1031.9 C945.3,1035.4 946.2,1038.6 948.0,1041.7 C949.8,1044.8 953.3,1047.2 955.3,1050.3 C957.3,1053.4 959.6,1057.0 960.2,1060.1 C960.8,1063.2 960.4,1066.5 959.0,1068.7 C957.6,1071.0 954.8,1073.0 951.7,1073.6 C948.6,1074.2 944.3,1073.4 940.6,1072.4 C936.9,1071.4 932.8,1070.0 929.6,1067.5 C926.4,1065.0 923.2,1060.9 921.6,1057.6 C920.0,1054.3 919.5,1051.1 919.8,1047.8 C920.1,1044.5 921.9,1041.3 923.5,1038.0 C925.1,1034.7 928.0,1031.0 929.6,1028.2 C931.2,1025.4 932.1,1022.5 933.3,1020.9 C934.5,1019.3 935.6,1018.4 937.0,1018.4Z"/></clipPath><path d="M937.0,1018.4 C938.4,1018.4 940.7,1018.6 941.9,1020.9 C943.1,1023.1 943.3,1028.4 944.3,1031.9 C945.3,1035.4 946.2,1038.6 948.0,1041.7 C949.8,1044.8 953.3,1047.2 955.3,1050.3 C957.3,1053.4 959.6,1057.0 960.2,1060.1 C960.8,1063.2 960.4,1066.5 959.0,1068.7 C957.6,1071.0 954.8,1073.0 951.7,1073.6 C948.6,1074.2 944.3,1073.4 940.6,1072.4 C936.9,1071.4 932.8,1070.0 929.6,1067.5 C926.4,1065.0 923.2,1060.9 921.6,1057.6 C920.0,1054.3 919.5,1051.1 919.8,1047.8 C920.1,1044.5 921.9,1041.3 923.5,1038.0 C925.1,1034.7 928.0,1031.0 929.6,1028.2 C931.2,1025.4 932.1,1022.5 933.3,1020.9 C934.5,1019.3 935.6,1018.4 937.0,1018.4Z" fill="#ffffff"/><path d="M937.0,1018.4 C938.4,1018.4 940.7,1018.6 941.9,1020.9 C943.1,1023.1 943.3,1028.4 944.3,1031.9 C945.3,1035.4 946.2,1038.6 948.0,1041.7 C949.8,1044.8 953.3,1047.2 955.3,1050.3 C957.3,1053.4 959.6,1057.0 960.2,1060.1 C960.8,1063.2 960.4,1066.5 959.0,1068.7 C957.6,1071.0 954.8,1073.0 951.7,1073.6 C948.6,1074.2 944.3,1073.4 940.6,1072.4 C936.9,1071.4 932.8,1070.0 929.6,1067.5 C926.4,1065.0 923.2,1060.9 921.6,1057.6 C920.0,1054.3 919.5,1051.1 919.8,1047.8 C920.1,1044.5 921.9,1041.3 923.5,1038.0 C925.1,1034.7 928.0,1031.0 929.6,1028.2 C931.2,1025.4 932.1,1022.5 933.3,1020.9 C934.5,1019.3 935.6,1018.4 937.0,1018.4Z" fill="none" stroke="#d9e3f6" stroke-width="8" clip-path="url(#c15)" filter="url(#soft)"/><path d="M937.0,1018.4 C938.4,1018.4 940.7,1018.6 941.9,1020.9 C943.1,1023.1 943.3,1028.4 944.3,1031.9 C945.3,1035.4 946.2,1038.6 948.0,1041.7 C949.8,1044.8 953.3,1047.2 955.3,1050.3 C957.3,1053.4 959.6,1057.0 960.2,1060.1 C960.8,1063.2 960.4,1066.5 959.0,1068.7 C957.6,1071.0 954.8,1073.0 951.7,1073.6 C948.6,1074.2 944.3,1073.4 940.6,1072.4 C936.9,1071.4 932.8,1070.0 929.6,1067.5 C926.4,1065.0 923.2,1060.9 921.6,1057.6 C920.0,1054.3 919.5,1051.1 919.8,1047.8 C920.1,1044.5 921.9,1041.3 923.5,1038.0 C925.1,1034.7 928.0,1031.0 929.6,1028.2 C931.2,1025.4 932.1,1022.5 933.3,1020.9 C934.5,1019.3 935.6,1018.4 937.0,1018.4Z" fill="none" stroke="#23457d" stroke-width="2.1" stroke-linejoin="round"/>

<g stroke="#6b6d72" stroke-width="1.05" stroke-linecap="round"><line x1="1141.2" y1="970.3" x2="1138.6" y2="945.7"/><line x1="1146.0" y1="970.3" x2="1144.1" y2="945.4"/><line x1="1150.7" y1="970.3" x2="1150.1" y2="947.1"/><line x1="1155.5" y1="970.3" x2="1153.0" y2="944.7"/><line x1="1160.3" y1="970.3" x2="1159.0" y2="946.6"/><line x1="1165.1" y1="970.3" x2="1166.6" y2="945.8"/><line x1="1169.8" y1="970.3" x2="1171.1" y2="945.8"/><line x1="1174.6" y1="970.3" x2="1175.5" y2="946.8"/><line x1="1179.4" y1="970.3" x2="1180.7" y2="944.5"/><line x1="1184.2" y1="970.3" x2="1185.4" y2="944.9"/><line x1="1188.9" y1="970.3" x2="1190.8" y2="947.2"/><line x1="1193.7" y1="970.3" x2="1196.3" y2="945.5"/><line x1="1196.9" y1="971.7" x2="1208.8" y2="951.9"/><line x1="1198.5" y1="974.6" x2="1213.9" y2="955.5"/><line x1="1200.1" y1="977.5" x2="1217.2" y2="958.1"/><line x1="1201.7" y1="980.4" x2="1220.1" y2="961.9"/><line x1="1203.3" y1="983.2" x2="1221.7" y2="965.4"/><line x1="1204.9" y1="986.1" x2="1224.8" y2="969.3"/><line x1="1206.5" y1="989.0" x2="1226.0" y2="976.2"/><line x1="1208.1" y1="991.9" x2="1227.4" y2="978.1"/><line x1="1209.8" y1="994.8" x2="1231.8" y2="984.3"/><line x1="1211.4" y1="997.6" x2="1233.2" y2="987.6"/><line x1="1213.0" y1="1000.5" x2="1235.4" y2="991.4"/><line x1="1214.6" y1="1003.4" x2="1238.0" y2="995.0"/><line x1="1216.2" y1="1006.3" x2="1241.3" y2="999.8"/><line x1="1217.8" y1="1009.1" x2="1243.4" y2="1004.6"/><line x1="1219.4" y1="1012.0" x2="1245.5" y2="1009.7"/><line x1="1221.0" y1="1014.9" x2="1244.5" y2="1013.6"/><line x1="1222.6" y1="1017.8" x2="1248.7" y2="1018.7"/><line x1="1222.6" y1="1020.6" x2="1247.4" y2="1022.6"/><line x1="1221.0" y1="1023.5" x2="1244.5" y2="1026.2"/><line x1="1219.3" y1="1026.3" x2="1243.7" y2="1031.1"/><line x1="1217.7" y1="1029.2" x2="1240.6" y2="1033.3"/><line x1="1216.1" y1="1032.0" x2="1241.0" y2="1040.3"/><line x1="1214.5" y1="1034.9" x2="1239.1" y2="1041.8"/><line x1="1212.8" y1="1037.7" x2="1234.6" y2="1046.5"/><line x1="1211.2" y1="1040.6" x2="1234.4" y2="1051.1"/><line x1="1209.6" y1="1043.4" x2="1229.1" y2="1055.9"/><line x1="1208.0" y1="1046.2" x2="1227.1" y2="1059.2"/><line x1="1206.4" y1="1049.1" x2="1225.2" y2="1064.1"/><line x1="1204.7" y1="1051.9" x2="1223.8" y2="1069.9"/><line x1="1203.1" y1="1054.8" x2="1222.0" y2="1073.0"/><line x1="1201.5" y1="1057.6" x2="1217.7" y2="1074.3"/><line x1="1199.9" y1="1060.5" x2="1214.2" y2="1078.6"/><line x1="1198.2" y1="1063.3" x2="1213.2" y2="1082.5"/><line x1="1196.6" y1="1066.2" x2="1208.8" y2="1086.3"/><line x1="1193.4" y1="1067.6" x2="1196.9" y2="1093.2"/><line x1="1188.7" y1="1067.6" x2="1190.9" y2="1093.6"/><line x1="1183.9" y1="1067.6" x2="1183.7" y2="1091.9"/><line x1="1179.2" y1="1067.7" x2="1180.2" y2="1092.3"/><line x1="1174.5" y1="1067.7" x2="1174.5" y2="1092.6"/><line x1="1169.7" y1="1067.7" x2="1169.8" y2="1092.7"/><line x1="1165.0" y1="1067.7" x2="1163.4" y2="1092.3"/><line x1="1160.2" y1="1067.7" x2="1160.1" y2="1093.1"/><line x1="1155.5" y1="1067.7" x2="1155.7" y2="1091.7"/><line x1="1150.8" y1="1067.8" x2="1148.1" y2="1092.3"/><line x1="1146.0" y1="1067.8" x2="1144.6" y2="1090.8"/><line x1="1141.3" y1="1067.8" x2="1139.9" y2="1092.6"/><line x1="1138.1" y1="1066.4" x2="1125.9" y2="1088.2"/><line x1="1136.6" y1="1063.5" x2="1122.4" y2="1081.9"/><line x1="1135.0" y1="1060.7" x2="1118.9" y2="1079.2"/><line x1="1133.4" y1="1057.8" x2="1116.4" y2="1074.9"/><line x1="1131.9" y1="1055.0" x2="1112.8" y2="1071.7"/><line x1="1130.3" y1="1052.1" x2="1113.4" y2="1068.0"/><line x1="1128.8" y1="1049.3" x2="1107.2" y2="1064.0"/><line x1="1127.2" y1="1046.4" x2="1107.0" y2="1060.2"/><line x1="1125.7" y1="1043.6" x2="1104.4" y2="1054.9"/><line x1="1124.1" y1="1040.8" x2="1102.6" y2="1051.4"/><line x1="1122.5" y1="1037.9" x2="1099.5" y2="1047.5"/><line x1="1121.0" y1="1035.1" x2="1098.2" y2="1043.2"/><line x1="1119.4" y1="1032.2" x2="1096.9" y2="1037.2"/><line x1="1117.9" y1="1029.4" x2="1092.9" y2="1034.0"/><line x1="1116.3" y1="1026.5" x2="1092.9" y2="1030.2"/><line x1="1114.7" y1="1023.7" x2="1091.0" y2="1024.3"/><line x1="1113.2" y1="1020.8" x2="1088.8" y2="1022.1"/><line x1="1113.2" y1="1018.0" x2="1089.9" y2="1017.3"/><line x1="1114.7" y1="1015.1" x2="1090.7" y2="1014.2"/><line x1="1116.3" y1="1012.2" x2="1092.2" y2="1008.1"/><line x1="1117.8" y1="1009.3" x2="1094.9" y2="1003.8"/><line x1="1119.4" y1="1006.4" x2="1094.9" y2="1000.8"/><line x1="1120.9" y1="1003.5" x2="1098.1" y2="994.9"/><line x1="1122.5" y1="1000.6" x2="1100.4" y2="993.0"/><line x1="1124.0" y1="997.7" x2="1102.6" y2="987.8"/><line x1="1125.6" y1="994.8" x2="1103.5" y2="981.7"/><line x1="1127.2" y1="992.0" x2="1106.3" y2="980.3"/><line x1="1128.7" y1="989.1" x2="1108.9" y2="973.7"/><line x1="1130.3" y1="986.2" x2="1112.1" y2="970.3"/><line x1="1131.8" y1="983.3" x2="1113.3" y2="968.1"/><line x1="1133.4" y1="980.4" x2="1117.5" y2="962.6"/><line x1="1134.9" y1="977.5" x2="1118.7" y2="959.3"/><line x1="1136.5" y1="974.6" x2="1121.6" y2="955.4"/><line x1="1138.0" y1="971.7" x2="1126.3" y2="951.4"/></g>
<clipPath id="hexclip"><path d="M1137.1,973.4 Q1138.8,970.3 1142.3,970.3 L1192.6,970.3 Q1196.1,970.3 1197.8,973.4 L1221.7,1016.1 Q1223.4,1019.2 1221.7,1022.2 L1197.5,1064.6 Q1195.8,1067.6 1192.3,1067.6 L1142.4,1067.8 Q1138.9,1067.8 1137.2,1064.7 L1114.1,1022.5 Q1112.4,1019.4 1114.1,1016.3Z"/></clipPath>
<path d="M1137.1,973.4 Q1138.8,970.3 1142.3,970.3 L1192.6,970.3 Q1196.1,970.3 1197.8,973.4 L1221.7,1016.1 Q1223.4,1019.2 1221.7,1022.2 L1197.5,1064.6 Q1195.8,1067.6 1192.3,1067.6 L1142.4,1067.8 Q1138.9,1067.8 1137.2,1064.7 L1114.1,1022.5 Q1112.4,1019.4 1114.1,1016.3Z" fill="#ffffff"/>
<path d="M1137.1,973.4 Q1138.8,970.3 1142.3,970.3 L1192.6,970.3 Q1196.1,970.3 1197.8,973.4 L1221.7,1016.1 Q1223.4,1019.2 1221.7,1022.2 L1197.5,1064.6 Q1195.8,1067.6 1192.3,1067.6 L1142.4,1067.8 Q1138.9,1067.8 1137.2,1064.7 L1114.1,1022.5 Q1112.4,1019.4 1114.1,1016.3Z" fill="none" stroke="#dce6f8" stroke-width="16" clip-path="url(#hexclip)" filter="url(#soft)"/>
<path d="M1212.6,1019.0 C1213.0,1019.6 1212.6,1020.3 1212.4,1020.9 C1212.2,1021.6 1211.8,1022.2 1211.3,1022.8 C1210.8,1023.4 1210.2,1023.9 1209.5,1024.5 C1208.9,1025.0 1208.1,1025.5 1207.5,1026.0 C1207.0,1026.5 1206.4,1026.9 1205.9,1027.4 C1205.5,1027.9 1205.2,1028.4 1205.1,1028.9 C1204.9,1029.5 1204.9,1030.0 1204.8,1030.6 C1204.8,1031.2 1204.9,1031.8 1204.8,1032.4 C1204.7,1033.0 1204.7,1033.6 1204.4,1034.1 C1204.2,1034.6 1203.8,1035.1 1203.4,1035.5 C1203.0,1035.9 1202.4,1036.3 1201.8,1036.6 C1201.3,1036.9 1200.6,1037.2 1200.1,1037.5 C1199.6,1037.9 1199.1,1038.2 1198.8,1038.6 C1198.5,1039.0 1198.3,1039.5 1198.1,1040.1 C1198.0,1040.7 1198.0,1041.3 1198.0,1042.0 C1198.0,1042.7 1198.1,1043.5 1198.0,1044.2 C1198.0,1044.9 1197.9,1045.6 1197.7,1046.2 C1197.5,1046.8 1197.2,1047.3 1196.8,1047.8 C1196.4,1048.2 1195.9,1048.6 1195.4,1048.9 C1194.9,1049.3 1194.4,1049.5 1193.9,1049.9 C1193.4,1050.2 1193.0,1050.6 1192.6,1051.1 C1192.3,1051.6 1192.0,1052.2 1191.7,1052.9 C1191.5,1053.6 1191.4,1054.5 1191.2,1055.3 C1191.0,1056.2 1191.0,1057.5 1190.6,1058.1 C1190.1,1058.6 1189.4,1058.7 1188.7,1058.8 C1188.0,1058.9 1187.2,1058.8 1186.5,1058.6 C1185.7,1058.5 1184.9,1058.1 1184.1,1057.8 C1183.3,1057.5 1182.5,1057.1 1181.8,1056.8 C1181.0,1056.5 1180.3,1056.2 1179.7,1056.1 C1179.1,1056.0 1178.5,1056.0 1177.9,1056.1 C1177.4,1056.2 1176.9,1056.5 1176.4,1056.7 C1175.8,1057.0 1175.4,1057.4 1174.8,1057.7 C1174.3,1057.9 1173.7,1058.2 1173.2,1058.3 C1172.6,1058.4 1172.0,1058.4 1171.4,1058.2 C1170.9,1058.1 1170.3,1057.8 1169.7,1057.5 C1169.1,1057.3 1168.6,1056.9 1168.0,1056.6 C1167.4,1056.4 1166.9,1056.2 1166.4,1056.1 C1165.8,1056.1 1165.3,1056.2 1164.7,1056.4 C1164.2,1056.6 1163.6,1056.9 1163.0,1057.3 C1162.4,1057.6 1161.7,1058.1 1161.1,1058.3 C1160.4,1058.6 1159.8,1058.9 1159.1,1059.0 C1158.5,1059.1 1157.9,1059.1 1157.3,1059.0 C1156.7,1058.8 1156.2,1058.5 1155.6,1058.2 C1155.1,1058.0 1154.6,1057.6 1154.1,1057.3 C1153.5,1057.0 1153.0,1056.8 1152.4,1056.7 C1151.8,1056.6 1151.1,1056.6 1150.4,1056.7 C1149.7,1056.8 1148.9,1057.1 1148.0,1057.3 C1147.2,1057.6 1146.2,1058.1 1145.4,1058.1 C1144.7,1058.1 1144.1,1057.7 1143.7,1057.2 C1143.2,1056.7 1143.0,1055.9 1142.7,1055.1 C1142.5,1054.3 1142.4,1053.4 1142.2,1052.6 C1142.1,1051.7 1142.1,1050.8 1142.0,1050.0 C1141.8,1049.3 1141.7,1048.5 1141.5,1047.9 C1141.3,1047.3 1141.0,1046.8 1140.6,1046.4 C1140.2,1046.0 1139.7,1045.7 1139.2,1045.4 C1138.6,1045.1 1138.0,1044.9 1137.5,1044.6 C1137.0,1044.3 1136.5,1043.9 1136.1,1043.5 C1135.7,1043.0 1135.4,1042.5 1135.2,1041.9 C1135.0,1041.4 1135.0,1040.7 1134.9,1040.1 C1134.9,1039.4 1134.9,1038.7 1134.9,1038.1 C1134.8,1037.5 1134.8,1036.9 1134.5,1036.4 C1134.3,1035.9 1134.0,1035.5 1133.6,1035.0 C1133.2,1034.6 1132.6,1034.3 1132.0,1033.9 C1131.5,1033.5 1130.8,1033.2 1130.3,1032.7 C1129.7,1032.3 1129.2,1031.9 1128.9,1031.3 C1128.5,1030.8 1128.3,1030.3 1128.2,1029.7 C1128.0,1029.1 1128.1,1028.5 1128.1,1027.8 C1128.1,1027.2 1128.3,1026.6 1128.3,1026.0 C1128.3,1025.4 1128.3,1024.8 1128.1,1024.2 C1128.0,1023.7 1127.6,1023.1 1127.2,1022.6 C1126.8,1022.0 1126.1,1021.4 1125.6,1020.9 C1125.0,1020.3 1124.2,1019.6 1124.0,1019.0 C1123.8,1018.4 1124.1,1017.7 1124.4,1017.1 C1124.6,1016.5 1125.0,1015.9 1125.5,1015.3 C1125.9,1014.7 1126.6,1014.1 1127.1,1013.6 C1127.7,1013.1 1128.4,1012.6 1129.0,1012.1 C1129.5,1011.6 1130.0,1011.2 1130.3,1010.7 C1130.7,1010.1 1130.9,1009.6 1131.0,1009.1 C1131.1,1008.5 1131.0,1007.9 1130.9,1007.3 C1130.9,1006.7 1130.7,1006.0 1130.7,1005.4 C1130.7,1004.8 1130.7,1004.2 1130.9,1003.6 C1131.0,1003.1 1131.3,1002.5 1131.7,1002.1 C1132.1,1001.6 1132.6,1001.2 1133.2,1000.9 C1133.7,1000.5 1134.3,1000.2 1134.8,999.8 C1135.3,999.5 1135.8,999.1 1136.1,998.7 C1136.5,998.3 1136.7,997.8 1136.9,997.2 C1137.0,996.6 1137.0,996.0 1137.1,995.3 C1137.2,994.6 1137.1,993.9 1137.3,993.2 C1137.4,992.5 1137.5,991.8 1137.7,991.3 C1138.0,990.7 1138.4,990.2 1138.8,989.8 C1139.2,989.4 1139.8,989.1 1140.3,988.8 C1140.8,988.5 1141.4,988.3 1141.9,987.9 C1142.4,987.6 1142.9,987.3 1143.3,986.7 C1143.6,986.2 1143.9,985.6 1144.1,984.9 C1144.4,984.2 1144.4,983.2 1144.7,982.4 C1144.9,981.6 1145.2,980.7 1145.7,980.3 C1146.1,979.8 1146.9,979.8 1147.5,979.7 C1148.2,979.6 1148.9,979.6 1149.7,979.7 C1150.4,979.8 1151.2,980.0 1152.0,980.3 C1152.7,980.5 1153.5,980.8 1154.2,981.1 C1154.9,981.3 1155.6,981.5 1156.2,981.6 C1156.8,981.6 1157.4,981.5 1157.9,981.4 C1158.5,981.2 1159.0,980.9 1159.5,980.5 C1160.0,980.2 1160.5,979.8 1161.0,979.5 C1161.6,979.3 1162.1,979.0 1162.7,978.9 C1163.3,978.8 1163.9,978.9 1164.5,979.0 C1165.1,979.2 1165.7,979.5 1166.3,979.9 C1166.9,980.2 1167.4,980.6 1168.0,980.9 C1168.6,981.2 1169.1,981.5 1169.6,981.7 C1170.2,981.8 1170.7,981.8 1171.3,981.7 C1171.8,981.6 1172.4,981.3 1173.0,981.0 C1173.6,980.8 1174.2,980.4 1174.8,980.2 C1175.5,979.9 1176.1,979.7 1176.7,979.6 C1177.3,979.6 1177.9,979.6 1178.5,979.8 C1179.1,979.9 1179.6,980.3 1180.1,980.6 C1180.6,980.8 1181.1,981.2 1181.7,981.5 C1182.2,981.7 1182.7,981.9 1183.3,982.0 C1183.9,982.0 1184.6,982.0 1185.4,981.8 C1186.1,981.6 1186.9,981.3 1187.8,981.0 C1188.7,980.7 1189.8,980.0 1190.5,980.0 C1191.2,980.1 1191.6,980.8 1192.0,981.3 C1192.4,981.9 1192.8,982.5 1193.1,983.2 C1193.4,983.9 1193.5,984.7 1193.7,985.5 C1193.9,986.3 1193.9,987.2 1194.1,987.9 C1194.2,988.7 1194.3,989.4 1194.6,990.0 C1194.8,990.6 1195.1,991.1 1195.5,991.5 C1195.9,991.9 1196.4,992.2 1196.9,992.5 C1197.4,992.9 1198.0,993.1 1198.4,993.5 C1198.9,993.8 1199.4,994.2 1199.7,994.7 C1200.0,995.1 1200.3,995.7 1200.4,996.3 C1200.5,996.9 1200.5,997.6 1200.5,998.3 C1200.5,999.0 1200.3,999.7 1200.3,1000.3 C1200.3,1001.0 1200.3,1001.6 1200.5,1002.1 C1200.6,1002.6 1200.9,1003.1 1201.3,1003.5 C1201.7,1003.9 1202.2,1004.2 1202.8,1004.6 C1203.3,1005.0 1204.0,1005.3 1204.5,1005.7 C1205.0,1006.1 1205.6,1006.5 1206.0,1007.0 C1206.4,1007.5 1206.6,1008.0 1206.8,1008.6 C1207.0,1009.2 1207.0,1009.8 1207.0,1010.3 C1207.1,1010.9 1207.0,1011.5 1207.1,1012.1 C1207.1,1012.7 1207.2,1013.2 1207.5,1013.8 C1207.7,1014.4 1208.2,1014.9 1208.7,1015.4 C1209.2,1016.0 1209.9,1016.6 1210.5,1017.1 C1211.2,1017.7 1212.3,1018.4 1212.6,1019.0Z" fill="none" stroke="#c2c6ca" stroke-width="2.1"/>
<path d="M1144.5,1019.6 C1145.5,1017.5 1148.2,1012.9 1150.8,1010.8 C1153.4,1008.7 1157.0,1008.2 1160.3,1007.0 C1163.6,1005.8 1167.5,1003.9 1170.4,1003.6 C1173.3,1003.3 1175.4,1003.9 1177.9,1005.1 C1180.4,1006.3 1183.4,1008.6 1185.5,1010.8 C1187.6,1013.0 1189.7,1016.2 1190.5,1018.4 C1191.3,1020.6 1191.3,1022.0 1190.5,1024.0 C1189.7,1026.0 1187.6,1028.7 1185.5,1030.4 C1183.4,1032.1 1180.6,1033.5 1177.9,1034.1 C1175.2,1034.7 1172.3,1034.5 1169.1,1034.1 C1165.8,1033.7 1161.6,1032.6 1158.4,1031.6 C1155.2,1030.5 1152.4,1029.2 1150.2,1027.8 C1148.0,1026.4 1146.0,1024.8 1145.1,1023.4 C1144.1,1022.0 1143.5,1021.7 1144.5,1019.6Z" fill="#dfdfe1" stroke="#8e8e92" stroke-width="1.5"/>
<path d="M1137.1,973.4 Q1138.8,970.3 1142.3,970.3 L1192.6,970.3 Q1196.1,970.3 1197.8,973.4 L1221.7,1016.1 Q1223.4,1019.2 1221.7,1022.2 L1197.5,1064.6 Q1195.8,1067.6 1192.3,1067.6 L1142.4,1067.8 Q1138.9,1067.8 1137.2,1064.7 L1114.1,1022.5 Q1112.4,1019.4 1114.1,1016.3Z" fill="none" stroke="#25437a" stroke-width="2.3" stroke-linejoin="round"/>


<g class="lbl" fill="#111">
<text x="178.2" y="72.7" font-size="47">Eukaryotic IF4F</text>
<text x="856.3" y="73" font-size="45.5">Viral IF4F</text>
<text y="132.7" font-size="40.5"><tspan x="1107.8">2</tspan><tspan x="1133.4" font-size="43">&#x2032;</tspan><tspan x="1145.8" letter-spacing="-1.3">OMeA</tspan></text>
<text x="147.9" y="250.5" font-size="41">m</text><text x="181.6" y="237.5" font-size="23">7</text><text x="194.7" y="250.6" font-size="42">G</text>
<text x="1026.9" y="250.5" font-size="41">m</text><text x="1060.5" y="237.3" font-size="23">7</text><text x="1073.7" y="250.6" font-size="42">G</text>
<text x="288.5" y="380.2" font-size="38.5">4E</text>
<text x="197.5" y="539.4" font-size="39">4A</text>
<text x="297.4" y="500.5" font-size="40">4G</text>
<text x="922.7" y="379.3" font-size="38">4E</text>
<text x="871.1" y="554.6" font-size="38.5">4A</text>
<text x="978.6" y="505.5" font-size="39.5">4G</text>
<text x="576.1" y="667.6" font-size="47.5">Stress</text>
<text x="146.9" y="848.2" font-size="47.5">Global</text>
<text x="106.3" y="904" font-size="47.5">translation</text>
<text x="921.3" y="848.1" font-size="47.5">Specialized</text>
<text x="933.6" y="904.5" font-size="48">translation</text>
</g>

</svg>
</body></html>
